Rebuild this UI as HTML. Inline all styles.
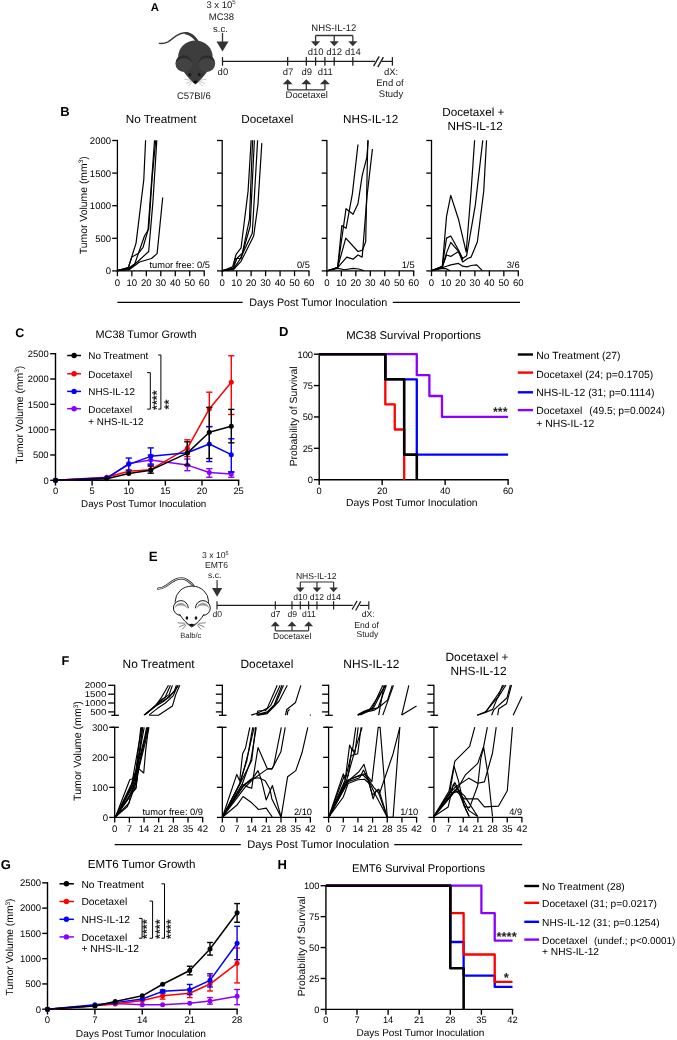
<!DOCTYPE html>
<html><head><meta charset="utf-8"><style>
html,body{margin:0;padding:0;background:#fff;overflow:hidden;width:677px;height:1040px;}
svg{display:block;font-family:"Liberation Sans", sans-serif;text-rendering:geometricPrecision;will-change:transform;}
</style></head><body>
<svg width="677" height="1040" viewBox="0 0 677 1040" shape-rendering="geometricPrecision">
<rect width="677" height="1040" fill="#fff"/>
<text x="150.80" y="11.00" font-size="11.3" text-anchor="start" font-weight="bold" fill="#000" >A</text>
<text x="221.0" y="7.6" font-size="9.5" text-anchor="middle" fill="#1a1a1a">3 x 10<tspan font-size="6" dy="-3.5">5</tspan></text>
<text x="221.40" y="20.00" font-size="9.5" text-anchor="middle" font-weight="normal" fill="#1a1a1a" >MC38</text>
<text x="220.40" y="31.60" font-size="9.5" text-anchor="middle" font-weight="normal" fill="#1a1a1a" >s.c.</text>
<line x1="222.50" y1="33.00" x2="222.50" y2="43.00" stroke="#333" stroke-width="1.3" />
<path d="M216.5,41.5 L228.5,41.5 L222.5,51.4 Z" fill="#333" stroke="none" stroke-width="1" />
<line x1="222.50" y1="61.40" x2="375.00" y2="61.40" stroke="#1c1c1c" stroke-width="1.25" />
<line x1="381.50" y1="61.40" x2="392.40" y2="61.40" stroke="#1c1c1c" stroke-width="1.25" />
<line x1="373.60" y1="66.20" x2="379.20" y2="56.30" stroke="#1c1c1c" stroke-width="1.35" />
<line x1="377.80" y1="67.10" x2="383.40" y2="57.20" stroke="#1c1c1c" stroke-width="1.35" />
<line x1="222.50" y1="57.10" x2="222.50" y2="65.70" stroke="#1c1c1c" stroke-width="1.25" />
<line x1="287.67" y1="57.10" x2="287.67" y2="65.70" stroke="#1c1c1c" stroke-width="1.25" />
<line x1="306.29" y1="57.10" x2="306.29" y2="65.70" stroke="#1c1c1c" stroke-width="1.25" />
<line x1="315.60" y1="57.10" x2="315.60" y2="65.70" stroke="#1c1c1c" stroke-width="1.25" />
<line x1="324.91" y1="57.10" x2="324.91" y2="65.70" stroke="#1c1c1c" stroke-width="1.25" />
<line x1="334.22" y1="57.10" x2="334.22" y2="65.70" stroke="#1c1c1c" stroke-width="1.25" />
<line x1="352.84" y1="57.10" x2="352.84" y2="65.70" stroke="#1c1c1c" stroke-width="1.25" />
<line x1="392.40" y1="57.10" x2="392.40" y2="65.70" stroke="#1c1c1c" stroke-width="1.25" />
<text x="222.90" y="74.50" font-size="9.5" text-anchor="middle" font-weight="normal" fill="#1a1a1a" >d0</text>
<text x="288.07" y="74.50" font-size="9.5" text-anchor="middle" font-weight="normal" fill="#1a1a1a" >d7</text>
<text x="306.69" y="74.50" font-size="9.5" text-anchor="middle" font-weight="normal" fill="#1a1a1a" >d9</text>
<text x="325.31" y="74.50" font-size="9.5" text-anchor="middle" font-weight="normal" fill="#1a1a1a" >d11</text>
<text x="391.10" y="74.50" font-size="9.5" text-anchor="middle" font-weight="normal" fill="#1a1a1a" >dX:</text>
<text x="390.00" y="85.70" font-size="9.5" text-anchor="middle" font-weight="normal" fill="#1a1a1a" >End of</text>
<text x="391.00" y="96.60" font-size="9.5" text-anchor="middle" font-weight="normal" fill="#1a1a1a" >Study</text>
<text x="315.60" y="55.00" font-size="9.5" text-anchor="middle" font-weight="normal" fill="#1a1a1a" >d10</text>
<text x="334.22" y="55.00" font-size="9.5" text-anchor="middle" font-weight="normal" fill="#1a1a1a" >d12</text>
<text x="352.84" y="55.00" font-size="9.5" text-anchor="middle" font-weight="normal" fill="#1a1a1a" >d14</text>
<text x="333.80" y="31.40" font-size="9.5" text-anchor="middle" font-weight="normal" fill="#1a1a1a" >NHS-IL-12</text>
<line x1="315.60" y1="35.50" x2="352.84" y2="35.50" stroke="#333" stroke-width="1.3" />
<line x1="315.60" y1="35.50" x2="315.60" y2="42.00" stroke="#333" stroke-width="1.3" />
<path d="M311.00,41.3 L320.20,41.3 L315.60,46.2 Z" fill="#333" stroke="none" stroke-width="1" />
<line x1="334.22" y1="35.50" x2="334.22" y2="42.00" stroke="#333" stroke-width="1.3" />
<path d="M329.62,41.3 L338.82,41.3 L334.22,46.2 Z" fill="#333" stroke="none" stroke-width="1" />
<line x1="352.84" y1="35.50" x2="352.84" y2="42.00" stroke="#333" stroke-width="1.3" />
<path d="M348.24,41.3 L357.44,41.3 L352.84,46.2 Z" fill="#333" stroke="none" stroke-width="1" />
<line x1="287.67" y1="89.90" x2="324.91" y2="89.90" stroke="#333" stroke-width="1.3" />
<line x1="287.67" y1="89.90" x2="287.67" y2="83.00" stroke="#333" stroke-width="1.3" />
<path d="M282.67,84.2 L292.67,84.2 L287.67,79.3 Z" fill="#333" stroke="none" stroke-width="1" />
<line x1="306.29" y1="89.90" x2="306.29" y2="83.00" stroke="#333" stroke-width="1.3" />
<path d="M301.29,84.2 L311.29,84.2 L306.29,79.3 Z" fill="#333" stroke="none" stroke-width="1" />
<line x1="324.91" y1="89.90" x2="324.91" y2="83.00" stroke="#333" stroke-width="1.3" />
<path d="M319.91,84.2 L329.91,84.2 L324.91,79.3 Z" fill="#333" stroke="none" stroke-width="1" />
<text x="306.70" y="98.30" font-size="9.5" text-anchor="middle" font-weight="normal" fill="#1a1a1a" >Docetaxel</text>
<path d="M159.3,43.4 C162.5,43.8 165,43.4 168,41.8 C171,40 173.5,37.5 176.5,35.6 C179.5,33.8 182,32.8 185,32.8 C189,32.9 192.5,34.8 195,37.5 C196,38.6 196.8,39.6 197.5,40.8" fill="none" stroke="#3a3a3a" stroke-width="1.4" stroke-linecap="round"/>
<path d="M186,33.3 C190,34 193.5,36.5 196.5,40.5" fill="none" stroke="#3a3a3a" stroke-width="2.4" stroke-linecap="round"/>
<ellipse cx="195.4" cy="56.5" rx="17.2" ry="16.0" fill="#3d3d3d"/>
<path d="M182.5,62 L208.3,62 L207.6,71.0 C204.6,75.8 200,80.6 195.4,84.6 C190.8,80.6 186.2,75.8 183.2,71.0 Z" fill="#3b3b3b" stroke="none" stroke-width="1" />
<circle cx="183.90" cy="63.60" r="8.5" fill="#434343" />
<circle cx="206.70" cy="63.60" r="8.5" fill="#434343" />
<path d="M176.0,62.5 C176.5,57.5 180,55.2 184,55.2 C188.5,55.2 191.8,58.5 192.2,63 C190.5,60 187.5,58.3 184,58.3 C180.5,58.3 177.5,60 176.0,62.5 Z" fill="#2c2c2c" stroke="none" stroke-width="1" />
<path d="M198.6,63 C199,58.5 202.3,55.2 206.7,55.2 C210.8,55.2 214.3,57.5 214.7,62.5 C213.2,60 210.2,58.3 206.7,58.3 C203.2,58.3 200.3,60 198.6,63 Z" fill="#2c2c2c" stroke="none" stroke-width="1" />
<circle cx="190.00" cy="74.60" r="1.45" fill="#050505" />
<circle cx="190.45" cy="74.15" r="0.45" fill="#cfcfcf" />
<circle cx="199.60" cy="74.60" r="1.45" fill="#050505" />
<circle cx="200.05" cy="74.15" r="0.45" fill="#cfcfcf" />
<ellipse cx="195.4" cy="81.9" rx="2.0" ry="1.35" fill="#080808"/>
<line x1="191.20" y1="80.20" x2="184.50" y2="79.30" stroke="#9a9a9a" stroke-width="0.55" />
<line x1="191.60" y1="81.20" x2="185.80" y2="83.60" stroke="#9a9a9a" stroke-width="0.55" />
<line x1="192.20" y1="82.10" x2="188.20" y2="86.30" stroke="#9a9a9a" stroke-width="0.55" />
<line x1="199.60" y1="80.20" x2="206.30" y2="79.30" stroke="#9a9a9a" stroke-width="0.55" />
<line x1="199.20" y1="81.20" x2="205.00" y2="83.60" stroke="#9a9a9a" stroke-width="0.55" />
<line x1="198.60" y1="82.10" x2="202.60" y2="86.30" stroke="#9a9a9a" stroke-width="0.55" />
<text x="193.80" y="98.50" font-size="9.5" text-anchor="middle" font-weight="normal" fill="#1a1a1a" >C57Bl/6</text>
<text x="60.30" y="115.50" font-size="13" text-anchor="start" font-weight="bold" fill="#000" >B</text>
<text x="161.10" y="123.30" font-size="11.7" text-anchor="middle" font-weight="normal" fill="#000" >No Treatment</text>
<line x1="117.40" y1="139.90" x2="117.40" y2="271.50" stroke="#000" stroke-width="1.3" />
<line x1="116.80" y1="270.90" x2="204.80" y2="270.90" stroke="#000" stroke-width="1.3" />
<line x1="112.20" y1="270.90" x2="117.40" y2="270.90" stroke="#000" stroke-width="1.3" />
<text x="111.00" y="274.30" font-size="9.5" text-anchor="end" font-weight="normal" fill="#000" >0</text>
<line x1="112.20" y1="238.30" x2="117.40" y2="238.30" stroke="#000" stroke-width="1.3" />
<text x="111.00" y="241.70" font-size="9.5" text-anchor="end" font-weight="normal" fill="#000" >500</text>
<line x1="112.20" y1="205.70" x2="117.40" y2="205.70" stroke="#000" stroke-width="1.3" />
<text x="111.00" y="209.10" font-size="9.5" text-anchor="end" font-weight="normal" fill="#000" >1000</text>
<line x1="112.20" y1="173.10" x2="117.40" y2="173.10" stroke="#000" stroke-width="1.3" />
<text x="111.00" y="176.50" font-size="9.5" text-anchor="end" font-weight="normal" fill="#000" >1500</text>
<line x1="112.20" y1="140.50" x2="117.40" y2="140.50" stroke="#000" stroke-width="1.3" />
<text x="111.00" y="143.90" font-size="9.5" text-anchor="end" font-weight="normal" fill="#000" >2000</text>
<line x1="117.40" y1="270.90" x2="117.40" y2="276.20" stroke="#000" stroke-width="1.3" />
<text x="117.40" y="286.40" font-size="9.6" text-anchor="middle" font-weight="normal" fill="#000" >0</text>
<line x1="131.87" y1="270.90" x2="131.87" y2="276.20" stroke="#000" stroke-width="1.3" />
<text x="131.87" y="286.40" font-size="9.6" text-anchor="middle" font-weight="normal" fill="#000" >10</text>
<line x1="146.33" y1="270.90" x2="146.33" y2="276.20" stroke="#000" stroke-width="1.3" />
<text x="146.33" y="286.40" font-size="9.6" text-anchor="middle" font-weight="normal" fill="#000" >20</text>
<line x1="160.80" y1="270.90" x2="160.80" y2="276.20" stroke="#000" stroke-width="1.3" />
<text x="160.80" y="286.40" font-size="9.6" text-anchor="middle" font-weight="normal" fill="#000" >30</text>
<line x1="175.27" y1="270.90" x2="175.27" y2="276.20" stroke="#000" stroke-width="1.3" />
<text x="175.27" y="286.40" font-size="9.6" text-anchor="middle" font-weight="normal" fill="#000" >40</text>
<line x1="189.73" y1="270.90" x2="189.73" y2="276.20" stroke="#000" stroke-width="1.3" />
<text x="189.73" y="286.40" font-size="9.6" text-anchor="middle" font-weight="normal" fill="#000" >50</text>
<line x1="204.20" y1="270.90" x2="204.20" y2="276.20" stroke="#000" stroke-width="1.3" />
<text x="204.20" y="286.40" font-size="9.6" text-anchor="middle" font-weight="normal" fill="#000" >60</text>
<text x="209.90" y="268.40" font-size="9.3" text-anchor="end" font-weight="normal" fill="#000" >tumor free: 0/5</text>
<text x="267.30" y="123.30" font-size="11.7" text-anchor="middle" font-weight="normal" fill="#000" >Docetaxel</text>
<line x1="222.20" y1="139.90" x2="222.20" y2="271.50" stroke="#000" stroke-width="1.3" />
<line x1="221.60" y1="270.90" x2="309.60" y2="270.90" stroke="#000" stroke-width="1.3" />
<line x1="217.00" y1="270.90" x2="222.20" y2="270.90" stroke="#000" stroke-width="1.3" />
<line x1="217.00" y1="238.30" x2="222.20" y2="238.30" stroke="#000" stroke-width="1.3" />
<line x1="217.00" y1="205.70" x2="222.20" y2="205.70" stroke="#000" stroke-width="1.3" />
<line x1="217.00" y1="173.10" x2="222.20" y2="173.10" stroke="#000" stroke-width="1.3" />
<line x1="217.00" y1="140.50" x2="222.20" y2="140.50" stroke="#000" stroke-width="1.3" />
<line x1="222.20" y1="270.90" x2="222.20" y2="276.20" stroke="#000" stroke-width="1.3" />
<text x="222.20" y="286.40" font-size="9.6" text-anchor="middle" font-weight="normal" fill="#000" >0</text>
<line x1="236.67" y1="270.90" x2="236.67" y2="276.20" stroke="#000" stroke-width="1.3" />
<text x="236.67" y="286.40" font-size="9.6" text-anchor="middle" font-weight="normal" fill="#000" >10</text>
<line x1="251.13" y1="270.90" x2="251.13" y2="276.20" stroke="#000" stroke-width="1.3" />
<text x="251.13" y="286.40" font-size="9.6" text-anchor="middle" font-weight="normal" fill="#000" >20</text>
<line x1="265.60" y1="270.90" x2="265.60" y2="276.20" stroke="#000" stroke-width="1.3" />
<text x="265.60" y="286.40" font-size="9.6" text-anchor="middle" font-weight="normal" fill="#000" >30</text>
<line x1="280.07" y1="270.90" x2="280.07" y2="276.20" stroke="#000" stroke-width="1.3" />
<text x="280.07" y="286.40" font-size="9.6" text-anchor="middle" font-weight="normal" fill="#000" >40</text>
<line x1="294.53" y1="270.90" x2="294.53" y2="276.20" stroke="#000" stroke-width="1.3" />
<text x="294.53" y="286.40" font-size="9.6" text-anchor="middle" font-weight="normal" fill="#000" >50</text>
<line x1="309.00" y1="270.90" x2="309.00" y2="276.20" stroke="#000" stroke-width="1.3" />
<text x="309.00" y="286.40" font-size="9.6" text-anchor="middle" font-weight="normal" fill="#000" >60</text>
<text x="309.90" y="268.40" font-size="9.3" text-anchor="end" font-weight="normal" fill="#000" >0/5</text>
<text x="370.70" y="123.30" font-size="11.7" text-anchor="middle" font-weight="normal" fill="#000" >NHS-IL-12</text>
<line x1="326.90" y1="139.90" x2="326.90" y2="271.50" stroke="#000" stroke-width="1.3" />
<line x1="326.30" y1="270.90" x2="414.30" y2="270.90" stroke="#000" stroke-width="1.3" />
<line x1="321.70" y1="270.90" x2="326.90" y2="270.90" stroke="#000" stroke-width="1.3" />
<line x1="321.70" y1="238.30" x2="326.90" y2="238.30" stroke="#000" stroke-width="1.3" />
<line x1="321.70" y1="205.70" x2="326.90" y2="205.70" stroke="#000" stroke-width="1.3" />
<line x1="321.70" y1="173.10" x2="326.90" y2="173.10" stroke="#000" stroke-width="1.3" />
<line x1="321.70" y1="140.50" x2="326.90" y2="140.50" stroke="#000" stroke-width="1.3" />
<line x1="326.90" y1="270.90" x2="326.90" y2="276.20" stroke="#000" stroke-width="1.3" />
<text x="326.90" y="286.40" font-size="9.6" text-anchor="middle" font-weight="normal" fill="#000" >0</text>
<line x1="341.37" y1="270.90" x2="341.37" y2="276.20" stroke="#000" stroke-width="1.3" />
<text x="341.37" y="286.40" font-size="9.6" text-anchor="middle" font-weight="normal" fill="#000" >10</text>
<line x1="355.83" y1="270.90" x2="355.83" y2="276.20" stroke="#000" stroke-width="1.3" />
<text x="355.83" y="286.40" font-size="9.6" text-anchor="middle" font-weight="normal" fill="#000" >20</text>
<line x1="370.30" y1="270.90" x2="370.30" y2="276.20" stroke="#000" stroke-width="1.3" />
<text x="370.30" y="286.40" font-size="9.6" text-anchor="middle" font-weight="normal" fill="#000" >30</text>
<line x1="384.77" y1="270.90" x2="384.77" y2="276.20" stroke="#000" stroke-width="1.3" />
<text x="384.77" y="286.40" font-size="9.6" text-anchor="middle" font-weight="normal" fill="#000" >40</text>
<line x1="399.23" y1="270.90" x2="399.23" y2="276.20" stroke="#000" stroke-width="1.3" />
<text x="399.23" y="286.40" font-size="9.6" text-anchor="middle" font-weight="normal" fill="#000" >50</text>
<line x1="413.70" y1="270.90" x2="413.70" y2="276.20" stroke="#000" stroke-width="1.3" />
<text x="413.70" y="286.40" font-size="9.6" text-anchor="middle" font-weight="normal" fill="#000" >60</text>
<text x="414.60" y="268.40" font-size="9.3" text-anchor="end" font-weight="normal" fill="#000" >1/5</text>
<text x="473.30" y="116.10" font-size="11.7" text-anchor="middle" font-weight="normal" fill="#000" >Docetaxel +</text>
<text x="475.10" y="130.30" font-size="11.7" text-anchor="middle" font-weight="normal" fill="#000" >NHS-IL-12</text>
<line x1="431.50" y1="139.90" x2="431.50" y2="271.50" stroke="#000" stroke-width="1.3" />
<line x1="430.90" y1="270.90" x2="518.90" y2="270.90" stroke="#000" stroke-width="1.3" />
<line x1="426.30" y1="270.90" x2="431.50" y2="270.90" stroke="#000" stroke-width="1.3" />
<line x1="426.30" y1="238.30" x2="431.50" y2="238.30" stroke="#000" stroke-width="1.3" />
<line x1="426.30" y1="205.70" x2="431.50" y2="205.70" stroke="#000" stroke-width="1.3" />
<line x1="426.30" y1="173.10" x2="431.50" y2="173.10" stroke="#000" stroke-width="1.3" />
<line x1="426.30" y1="140.50" x2="431.50" y2="140.50" stroke="#000" stroke-width="1.3" />
<line x1="431.50" y1="270.90" x2="431.50" y2="276.20" stroke="#000" stroke-width="1.3" />
<text x="431.50" y="286.40" font-size="9.6" text-anchor="middle" font-weight="normal" fill="#000" >0</text>
<line x1="445.97" y1="270.90" x2="445.97" y2="276.20" stroke="#000" stroke-width="1.3" />
<text x="445.97" y="286.40" font-size="9.6" text-anchor="middle" font-weight="normal" fill="#000" >10</text>
<line x1="460.43" y1="270.90" x2="460.43" y2="276.20" stroke="#000" stroke-width="1.3" />
<text x="460.43" y="286.40" font-size="9.6" text-anchor="middle" font-weight="normal" fill="#000" >20</text>
<line x1="474.90" y1="270.90" x2="474.90" y2="276.20" stroke="#000" stroke-width="1.3" />
<text x="474.90" y="286.40" font-size="9.6" text-anchor="middle" font-weight="normal" fill="#000" >30</text>
<line x1="489.37" y1="270.90" x2="489.37" y2="276.20" stroke="#000" stroke-width="1.3" />
<text x="489.37" y="286.40" font-size="9.6" text-anchor="middle" font-weight="normal" fill="#000" >40</text>
<line x1="503.83" y1="270.90" x2="503.83" y2="276.20" stroke="#000" stroke-width="1.3" />
<text x="503.83" y="286.40" font-size="9.6" text-anchor="middle" font-weight="normal" fill="#000" >50</text>
<line x1="518.30" y1="270.90" x2="518.30" y2="276.20" stroke="#000" stroke-width="1.3" />
<text x="518.30" y="286.40" font-size="9.6" text-anchor="middle" font-weight="normal" fill="#000" >60</text>
<text x="519.60" y="268.40" font-size="9.3" text-anchor="end" font-weight="normal" fill="#000" >3/6</text>
<text transform="translate(86.9,205.2) rotate(-90)" font-size="10.4" text-anchor="middle">Tumor Volume (mm<tspan font-size="6.5" dy="-3.5">3</tspan><tspan dy="3.5">)</tspan></text>
<line x1="117.40" y1="302.30" x2="242.60" y2="302.30" stroke="#000" stroke-width="1.2" />
<line x1="392.80" y1="302.30" x2="520.00" y2="302.30" stroke="#000" stroke-width="1.2" />
<text x="318.30" y="306.00" font-size="10.8" text-anchor="middle" font-weight="normal" fill="#000" >Days Post Tumor Inoculation</text>
<polyline points="117.53,270.70 128.33,267.61 136.05,243.06 143.77,179.91 145.59,140.33" fill="none" stroke="#000" stroke-width="1.2" stroke-linejoin="round" />
<polyline points="117.53,270.70 128.33,267.61 131.84,257.09 138.15,253.58 143.07,247.26 147.98,230.43 154.57,140.33" fill="none" stroke="#000" stroke-width="1.2" stroke-linejoin="round" />
<polyline points="117.53,270.70 128.33,268.31 134.65,264.10 144.47,236.04 148.68,229.02 152.19,177.10 155.70,140.33" fill="none" stroke="#000" stroke-width="1.2" stroke-linejoin="round" />
<polyline points="117.53,270.70 129.03,269.02 138.15,261.30 148.68,251.47 152.89,202.36 156.82,140.33" fill="none" stroke="#000" stroke-width="1.2" stroke-linejoin="round" />
<polyline points="117.53,270.70 129.03,269.72 139.56,262.00 151.49,258.49 157.10,253.58 162.71,197.45" fill="none" stroke="#000" stroke-width="1.2" stroke-linejoin="round" />
<polyline points="222.53,270.70 232.63,266.91 236.14,254.28 241.05,247.97 248.07,191.13 251.15,140.33" fill="none" stroke="#000" stroke-width="1.2" stroke-linejoin="round" />
<polyline points="222.53,270.70 233.33,268.31 236.84,258.49 242.45,252.88 249.47,219.20 252.56,140.33" fill="none" stroke="#000" stroke-width="1.2" stroke-linejoin="round" />
<polyline points="222.53,270.70 233.33,268.31 235.44,258.49 241.05,258.49 250.17,226.22 254.38,140.33" fill="none" stroke="#000" stroke-width="1.2" stroke-linejoin="round" />
<polyline points="222.53,270.70 233.33,269.02 239.65,259.89 252.28,233.23 257.61,140.33" fill="none" stroke="#000" stroke-width="1.2" stroke-linejoin="round" />
<polyline points="222.53,270.70 233.33,269.72 241.05,261.30 253.68,236.04 257.89,205.17 261.82,143.14" fill="none" stroke="#000" stroke-width="1.2" stroke-linejoin="round" />
<polyline points="327.53,270.70 337.63,267.61 341.84,225.51 346.05,228.32 352.36,193.94 357.98,144.54" fill="none" stroke="#000" stroke-width="1.2" stroke-linejoin="round" />
<polyline points="327.53,270.70 337.63,267.61 346.05,208.67 353.07,214.29 357.98,203.76 362.19,175.70 366.82,157.45 368.22,140.33" fill="none" stroke="#000" stroke-width="1.2" stroke-linejoin="round" />
<polyline points="327.53,270.70 337.63,267.61 345.77,238.14 357.98,251.47 362.61,250.07 365.70,241.65 367.80,140.33" fill="none" stroke="#000" stroke-width="1.2" stroke-linejoin="round" />
<polyline points="327.53,270.70 337.63,267.61 346.75,257.09 353.07,259.19 357.98,254.98 362.19,257.09 367.10,195.34 372.43,149.03" fill="none" stroke="#000" stroke-width="1.2" stroke-linejoin="round" />
<polyline points="327.53,270.70 337.63,268.31 344.65,269.72 353.07,268.31 358.68,269.02 364.29,270.70" fill="none" stroke="#000" stroke-width="1.2" stroke-linejoin="round" />
<polyline points="431.53,270.70 442.33,266.21 446.54,216.39 450.75,195.34 458.47,219.20 466.19,252.18 471.10,191.13 474.61,140.33" fill="none" stroke="#000" stroke-width="1.2" stroke-linejoin="round" />
<polyline points="431.53,270.70 442.33,266.21 446.54,238.14 450.75,236.04 458.47,250.07 462.68,258.49 466.61,255.68 475.31,205.17 482.75,140.33" fill="none" stroke="#000" stroke-width="1.2" stroke-linejoin="round" />
<polyline points="431.53,270.70 442.33,266.91 446.54,252.88 450.75,242.35 458.47,251.47 462.68,262.00 467.59,258.49 471.10,257.09 477.41,241.65 483.73,191.13 486.54,140.33" fill="none" stroke="#000" stroke-width="1.2" stroke-linejoin="round" />
<polyline points="431.53,270.70 442.33,266.91 446.54,254.98 450.75,256.39 458.47,251.47 462.68,259.89" fill="none" stroke="#000" stroke-width="1.2" stroke-linejoin="round" />
<polyline points="431.53,270.70 442.33,267.61 446.54,266.21 450.75,264.81 458.47,263.40 462.68,266.21 466.89,266.91 471.10,265.51 476.71,264.81 482.33,270.70" fill="none" stroke="#000" stroke-width="1.2" stroke-linejoin="round" />
<polyline points="431.53,270.70 442.33,268.31 445.84,268.60 450.05,270.70" fill="none" stroke="#000" stroke-width="1.2" stroke-linejoin="round" />
<text x="15.20" y="336.50" font-size="12.5" text-anchor="start" font-weight="bold" fill="#000" >C</text>
<text x="146.00" y="337.70" font-size="10.9" text-anchor="middle" font-weight="normal" fill="#000" >MC38 Tumor Growth</text>
<line x1="55.50" y1="353.00" x2="55.50" y2="481.00" stroke="#000" stroke-width="1.4" />
<line x1="54.80" y1="480.30" x2="239.30" y2="480.30" stroke="#000" stroke-width="1.4" />
<line x1="50.20" y1="480.30" x2="55.50" y2="480.30" stroke="#000" stroke-width="1.4" />
<text x="48.60" y="483.60" font-size="9.4" text-anchor="end" font-weight="normal" fill="#000" >0</text>
<line x1="50.20" y1="454.98" x2="55.50" y2="454.98" stroke="#000" stroke-width="1.4" />
<text x="48.60" y="458.28" font-size="9.4" text-anchor="end" font-weight="normal" fill="#000" >500</text>
<line x1="50.20" y1="429.66" x2="55.50" y2="429.66" stroke="#000" stroke-width="1.4" />
<text x="48.60" y="432.96" font-size="9.4" text-anchor="end" font-weight="normal" fill="#000" >1000</text>
<line x1="50.20" y1="404.34" x2="55.50" y2="404.34" stroke="#000" stroke-width="1.4" />
<text x="48.60" y="407.64" font-size="9.4" text-anchor="end" font-weight="normal" fill="#000" >1500</text>
<line x1="50.20" y1="379.02" x2="55.50" y2="379.02" stroke="#000" stroke-width="1.4" />
<text x="48.60" y="382.32" font-size="9.4" text-anchor="end" font-weight="normal" fill="#000" >2000</text>
<line x1="50.20" y1="353.70" x2="55.50" y2="353.70" stroke="#000" stroke-width="1.4" />
<text x="48.60" y="357.00" font-size="9.4" text-anchor="end" font-weight="normal" fill="#000" >2500</text>
<line x1="55.50" y1="480.30" x2="55.50" y2="485.60" stroke="#000" stroke-width="1.4" />
<text x="55.50" y="493.70" font-size="9.4" text-anchor="middle" font-weight="normal" fill="#000" >0</text>
<line x1="92.12" y1="480.30" x2="92.12" y2="485.60" stroke="#000" stroke-width="1.4" />
<text x="92.12" y="493.70" font-size="9.4" text-anchor="middle" font-weight="normal" fill="#000" >5</text>
<line x1="128.74" y1="480.30" x2="128.74" y2="485.60" stroke="#000" stroke-width="1.4" />
<text x="128.74" y="493.70" font-size="9.4" text-anchor="middle" font-weight="normal" fill="#000" >10</text>
<line x1="165.36" y1="480.30" x2="165.36" y2="485.60" stroke="#000" stroke-width="1.4" />
<text x="165.36" y="493.70" font-size="9.4" text-anchor="middle" font-weight="normal" fill="#000" >15</text>
<line x1="201.98" y1="480.30" x2="201.98" y2="485.60" stroke="#000" stroke-width="1.4" />
<text x="201.98" y="493.70" font-size="9.4" text-anchor="middle" font-weight="normal" fill="#000" >20</text>
<line x1="238.60" y1="480.30" x2="238.60" y2="485.60" stroke="#000" stroke-width="1.4" />
<text x="238.60" y="493.70" font-size="9.4" text-anchor="middle" font-weight="normal" fill="#000" >25</text>
<polyline points="55.50,480.30 106.77,478.27 128.74,463.59 150.71,459.89 187.33,465.11 209.30,472.50 231.28,474.02" fill="none" stroke="#8b00ff" stroke-width="1.5" stroke-linejoin="round" />
<line x1="150.71" y1="465.11" x2="150.71" y2="454.98" stroke="#8b00ff" stroke-width="1.4" />
<line x1="147.61" y1="454.98" x2="153.81" y2="454.98" stroke="#8b00ff" stroke-width="1.4" />
<line x1="147.61" y1="465.11" x2="153.81" y2="465.11" stroke="#8b00ff" stroke-width="1.4" />
<line x1="187.33" y1="470.68" x2="187.33" y2="459.03" stroke="#8b00ff" stroke-width="1.4" />
<line x1="184.23" y1="459.03" x2="190.43" y2="459.03" stroke="#8b00ff" stroke-width="1.4" />
<line x1="184.23" y1="470.68" x2="190.43" y2="470.68" stroke="#8b00ff" stroke-width="1.4" />
<line x1="209.30" y1="477.26" x2="209.30" y2="468.65" stroke="#8b00ff" stroke-width="1.4" />
<line x1="206.20" y1="468.65" x2="212.40" y2="468.65" stroke="#8b00ff" stroke-width="1.4" />
<line x1="206.20" y1="477.26" x2="212.40" y2="477.26" stroke="#8b00ff" stroke-width="1.4" />
<line x1="231.28" y1="477.26" x2="231.28" y2="471.69" stroke="#8b00ff" stroke-width="1.4" />
<line x1="228.18" y1="471.69" x2="234.38" y2="471.69" stroke="#8b00ff" stroke-width="1.4" />
<line x1="228.18" y1="477.26" x2="234.38" y2="477.26" stroke="#8b00ff" stroke-width="1.4" />
<circle cx="55.50" cy="480.30" r="2.5" fill="#8b00ff" />
<circle cx="106.77" cy="478.27" r="2.5" fill="#8b00ff" />
<circle cx="128.74" cy="463.59" r="2.5" fill="#8b00ff" />
<circle cx="150.71" cy="459.89" r="2.5" fill="#8b00ff" />
<circle cx="187.33" cy="465.11" r="2.5" fill="#8b00ff" />
<circle cx="209.30" cy="472.50" r="2.5" fill="#8b00ff" />
<circle cx="231.28" cy="474.02" r="2.5" fill="#8b00ff" />
<polyline points="55.50,480.30 106.77,477.26 128.74,471.18 150.71,469.67 187.33,448.30 209.30,408.90 231.28,382.31" fill="none" stroke="#ff0000" stroke-width="1.5" stroke-linejoin="round" />
<line x1="187.33" y1="456.50" x2="187.33" y2="439.79" stroke="#ff0000" stroke-width="1.4" />
<line x1="184.23" y1="439.79" x2="190.43" y2="439.79" stroke="#ff0000" stroke-width="1.4" />
<line x1="184.23" y1="456.50" x2="190.43" y2="456.50" stroke="#ff0000" stroke-width="1.4" />
<line x1="209.30" y1="426.62" x2="209.30" y2="392.19" stroke="#ff0000" stroke-width="1.4" />
<line x1="206.20" y1="392.19" x2="212.40" y2="392.19" stroke="#ff0000" stroke-width="1.4" />
<line x1="206.20" y1="426.62" x2="212.40" y2="426.62" stroke="#ff0000" stroke-width="1.4" />
<line x1="231.28" y1="414.47" x2="231.28" y2="355.73" stroke="#ff0000" stroke-width="1.4" />
<line x1="228.18" y1="355.73" x2="234.38" y2="355.73" stroke="#ff0000" stroke-width="1.4" />
<line x1="228.18" y1="414.47" x2="234.38" y2="414.47" stroke="#ff0000" stroke-width="1.4" />
<circle cx="55.50" cy="480.30" r="2.5" fill="#ff0000" />
<circle cx="106.77" cy="477.26" r="2.5" fill="#ff0000" />
<circle cx="128.74" cy="471.18" r="2.5" fill="#ff0000" />
<circle cx="150.71" cy="469.67" r="2.5" fill="#ff0000" />
<circle cx="187.33" cy="448.30" r="2.5" fill="#ff0000" />
<circle cx="209.30" cy="408.90" r="2.5" fill="#ff0000" />
<circle cx="231.28" cy="382.31" r="2.5" fill="#ff0000" />
<polyline points="55.50,480.30 106.77,477.77 128.74,464.35 150.71,456.35 187.33,452.70 209.30,444.04 231.28,454.63" fill="none" stroke="#0000ff" stroke-width="1.5" stroke-linejoin="round" />
<line x1="128.74" y1="470.17" x2="128.74" y2="458.02" stroke="#0000ff" stroke-width="1.4" />
<line x1="125.64" y1="458.02" x2="131.84" y2="458.02" stroke="#0000ff" stroke-width="1.4" />
<line x1="125.64" y1="470.17" x2="131.84" y2="470.17" stroke="#0000ff" stroke-width="1.4" />
<line x1="150.71" y1="464.10" x2="150.71" y2="447.89" stroke="#0000ff" stroke-width="1.4" />
<line x1="147.61" y1="447.89" x2="153.81" y2="447.89" stroke="#0000ff" stroke-width="1.4" />
<line x1="147.61" y1="464.10" x2="153.81" y2="464.10" stroke="#0000ff" stroke-width="1.4" />
<line x1="209.30" y1="461.56" x2="209.30" y2="426.62" stroke="#0000ff" stroke-width="1.4" />
<line x1="206.20" y1="426.62" x2="212.40" y2="426.62" stroke="#0000ff" stroke-width="1.4" />
<line x1="206.20" y1="461.56" x2="212.40" y2="461.56" stroke="#0000ff" stroke-width="1.4" />
<line x1="231.28" y1="472.20" x2="231.28" y2="438.78" stroke="#0000ff" stroke-width="1.4" />
<line x1="228.18" y1="438.78" x2="234.38" y2="438.78" stroke="#0000ff" stroke-width="1.4" />
<line x1="228.18" y1="472.20" x2="234.38" y2="472.20" stroke="#0000ff" stroke-width="1.4" />
<circle cx="55.50" cy="480.30" r="2.5" fill="#0000ff" />
<circle cx="106.77" cy="477.77" r="2.5" fill="#0000ff" />
<circle cx="128.74" cy="464.35" r="2.5" fill="#0000ff" />
<circle cx="150.71" cy="456.35" r="2.5" fill="#0000ff" />
<circle cx="187.33" cy="452.70" r="2.5" fill="#0000ff" />
<circle cx="209.30" cy="444.04" r="2.5" fill="#0000ff" />
<circle cx="231.28" cy="454.63" r="2.5" fill="#0000ff" />
<polyline points="55.50,480.30 106.77,478.78 128.74,473.41 150.71,470.17 187.33,453.11 209.30,432.29 231.28,426.32" fill="none" stroke="#000000" stroke-width="1.5" stroke-linejoin="round" />
<line x1="150.71" y1="473.21" x2="150.71" y2="466.12" stroke="#000000" stroke-width="1.4" />
<line x1="147.61" y1="466.12" x2="153.81" y2="466.12" stroke="#000000" stroke-width="1.4" />
<line x1="147.61" y1="473.21" x2="153.81" y2="473.21" stroke="#000000" stroke-width="1.4" />
<line x1="187.33" y1="465.11" x2="187.33" y2="441.81" stroke="#000000" stroke-width="1.4" />
<line x1="184.23" y1="441.81" x2="190.43" y2="441.81" stroke="#000000" stroke-width="1.4" />
<line x1="184.23" y1="465.11" x2="190.43" y2="465.11" stroke="#000000" stroke-width="1.4" />
<line x1="209.30" y1="458.52" x2="209.30" y2="407.38" stroke="#000000" stroke-width="1.4" />
<line x1="206.20" y1="407.38" x2="212.40" y2="407.38" stroke="#000000" stroke-width="1.4" />
<line x1="206.20" y1="458.52" x2="212.40" y2="458.52" stroke="#000000" stroke-width="1.4" />
<line x1="231.28" y1="442.83" x2="231.28" y2="409.40" stroke="#000000" stroke-width="1.4" />
<line x1="228.18" y1="409.40" x2="234.38" y2="409.40" stroke="#000000" stroke-width="1.4" />
<line x1="228.18" y1="442.83" x2="234.38" y2="442.83" stroke="#000000" stroke-width="1.4" />
<circle cx="55.50" cy="480.30" r="2.5" fill="#000000" />
<circle cx="106.77" cy="478.78" r="2.5" fill="#000000" />
<circle cx="128.74" cy="473.41" r="2.5" fill="#000000" />
<circle cx="150.71" cy="470.17" r="2.5" fill="#000000" />
<circle cx="187.33" cy="453.11" r="2.5" fill="#000000" />
<circle cx="209.30" cy="432.29" r="2.5" fill="#000000" />
<circle cx="231.28" cy="426.32" r="2.5" fill="#000000" />
<text transform="translate(22.6,414.7) rotate(-90)" font-size="10.4" text-anchor="middle">Tumor Volume (mm<tspan font-size="6.5" dy="-3.5">3</tspan><tspan dy="3.5">)</tspan></text>
<text x="143.70" y="506.80" font-size="9.8" text-anchor="middle" font-weight="normal" fill="#000" >Days Post Tumor Inoculation</text>
<line x1="67.20" y1="355.50" x2="81.00" y2="355.50" stroke="#000000" stroke-width="1.5" />
<circle cx="74.10" cy="355.50" r="2.7" fill="#000000" />
<text x="88.30" y="359.30" font-size="9.9" text-anchor="start" font-weight="normal" fill="#000" >No Treatment</text>
<line x1="67.20" y1="373.80" x2="81.00" y2="373.80" stroke="#ff0000" stroke-width="1.5" />
<circle cx="74.10" cy="373.80" r="2.7" fill="#ff0000" />
<text x="88.30" y="377.60" font-size="9.9" text-anchor="start" font-weight="normal" fill="#000" >Docetaxel</text>
<line x1="67.20" y1="391.40" x2="81.00" y2="391.40" stroke="#0000ff" stroke-width="1.5" />
<circle cx="74.10" cy="391.40" r="2.7" fill="#0000ff" />
<text x="88.30" y="395.20" font-size="9.9" text-anchor="start" font-weight="normal" fill="#000" >NHS-IL-12</text>
<line x1="67.20" y1="408.70" x2="81.00" y2="408.70" stroke="#8b00ff" stroke-width="1.5" />
<circle cx="74.10" cy="408.70" r="2.7" fill="#8b00ff" />
<text x="88.30" y="412.50" font-size="9.9" text-anchor="start" font-weight="normal" fill="#000" >Docetaxel</text>
<text x="88.30" y="424.70" font-size="9.9" text-anchor="start" font-weight="normal" fill="#000" >+ NHS-IL-12</text>
<line x1="160.90" y1="355.00" x2="160.90" y2="409.10" stroke="#000" stroke-width="1.0" />
<line x1="158.20" y1="355.00" x2="160.90" y2="355.00" stroke="#000" stroke-width="1.0" />
<line x1="158.20" y1="409.10" x2="160.90" y2="409.10" stroke="#000" stroke-width="1.0" />
<line x1="150.30" y1="372.60" x2="150.30" y2="409.10" stroke="#000" stroke-width="1.0" />
<line x1="147.20" y1="372.60" x2="150.30" y2="372.60" stroke="#000" stroke-width="1.0" />
<line x1="147.20" y1="409.10" x2="150.30" y2="409.10" stroke="#000" stroke-width="1.0" />
<text transform="translate(161.3,410.0) rotate(-90)" font-size="12.6" font-weight="bold" fill="#222">****</text>
<text transform="translate(173.2,409.4) rotate(-90)" font-size="12.6" font-weight="bold" fill="#222">**</text>
<text x="278.90" y="336.40" font-size="13" text-anchor="start" font-weight="bold" fill="#000" >D</text>
<text x="413.60" y="338.70" font-size="11.35" text-anchor="middle" font-weight="normal" fill="#000" >MC38 Survival Proportions</text>
<line x1="319.20" y1="353.50" x2="319.20" y2="480.40" stroke="#000" stroke-width="1.4" />
<line x1="318.50" y1="479.70" x2="508.78" y2="479.70" stroke="#000" stroke-width="1.4" />
<line x1="313.90" y1="479.70" x2="319.20" y2="479.70" stroke="#000" stroke-width="1.4" />
<text x="313.00" y="483.00" font-size="9.3" text-anchor="end" font-weight="normal" fill="#000" >0</text>
<line x1="313.90" y1="448.32" x2="319.20" y2="448.32" stroke="#000" stroke-width="1.4" />
<text x="313.00" y="451.62" font-size="9.3" text-anchor="end" font-weight="normal" fill="#000" >25</text>
<line x1="313.90" y1="416.95" x2="319.20" y2="416.95" stroke="#000" stroke-width="1.4" />
<text x="313.00" y="420.25" font-size="9.3" text-anchor="end" font-weight="normal" fill="#000" >50</text>
<line x1="313.90" y1="385.57" x2="319.20" y2="385.57" stroke="#000" stroke-width="1.4" />
<text x="313.00" y="388.88" font-size="9.3" text-anchor="end" font-weight="normal" fill="#000" >75</text>
<line x1="313.90" y1="354.20" x2="319.20" y2="354.20" stroke="#000" stroke-width="1.4" />
<text x="313.00" y="357.50" font-size="9.3" text-anchor="end" font-weight="normal" fill="#000" >100</text>
<line x1="319.20" y1="479.70" x2="319.20" y2="485.00" stroke="#000" stroke-width="1.4" />
<text x="319.20" y="494.00" font-size="9.3" text-anchor="middle" font-weight="normal" fill="#000" >0</text>
<line x1="382.16" y1="479.70" x2="382.16" y2="485.00" stroke="#000" stroke-width="1.4" />
<text x="382.16" y="494.00" font-size="9.3" text-anchor="middle" font-weight="normal" fill="#000" >20</text>
<line x1="445.12" y1="479.70" x2="445.12" y2="485.00" stroke="#000" stroke-width="1.4" />
<text x="445.12" y="494.00" font-size="9.3" text-anchor="middle" font-weight="normal" fill="#000" >40</text>
<line x1="508.08" y1="479.70" x2="508.08" y2="485.00" stroke="#000" stroke-width="1.4" />
<text x="508.08" y="494.00" font-size="9.3" text-anchor="middle" font-weight="normal" fill="#000" >60</text>
<polyline points="319.20,354.20 385.31,354.20 385.31,354.20 385.31,354.20 385.31,404.40 394.75,404.40 394.75,404.40 394.75,404.40 394.75,429.50 404.20,429.50 404.20,429.50 404.20,429.50 404.20,479.70" fill="none" stroke="#ff0000" stroke-width="2.3" stroke-linejoin="round" stroke-linejoin="miter" stroke-linecap="butt"/>
<polyline points="319.20,354.20 385.31,354.20 385.31,354.20 385.31,354.20 385.31,379.30 416.79,379.30 416.79,379.30 416.79,379.30 416.79,454.60 508.08,454.60 508.08,454.60" fill="none" stroke="#0000ff" stroke-width="2.3" stroke-linejoin="round" stroke-linejoin="miter" stroke-linecap="butt"/>
<polyline points="319.20,354.20 416.79,354.20 416.79,354.20 416.79,354.20 416.79,375.16 429.38,375.16 429.38,375.16 429.38,375.16 429.38,395.99 441.97,395.99 441.97,395.99 441.97,395.99 441.97,416.95 508.08,416.95 508.08,416.95" fill="none" stroke="#8b00ff" stroke-width="2.3" stroke-linejoin="round" stroke-linejoin="miter" stroke-linecap="butt"/>
<polyline points="319.20,354.20 385.31,354.20 385.31,354.20 385.31,354.20 385.31,379.30 404.20,379.30 404.20,379.30 404.20,379.30 404.20,454.60 416.79,454.60 416.79,454.60 416.79,454.60 416.79,479.70" fill="none" stroke="#000000" stroke-width="2.6" stroke-linejoin="round" stroke-linejoin="miter" stroke-linecap="butt"/>
<text transform="translate(297.2,416.4) rotate(-90)" font-size="10.4" text-anchor="middle">Probability of Survival</text>
<text x="411.80" y="506.30" font-size="10.3" text-anchor="middle" font-weight="normal" fill="#000" >Days Post Tumor Inoculation</text>
<text x="500.30" y="416.00" font-size="12.6" text-anchor="middle" font-weight="bold" fill="#222" >***</text>
<line x1="517.80" y1="354.50" x2="533.00" y2="354.50" stroke="#000000" stroke-width="2.4" />
<line x1="517.80" y1="372.60" x2="533.00" y2="372.60" stroke="#ff0000" stroke-width="2.4" />
<line x1="517.80" y1="392.30" x2="533.00" y2="392.30" stroke="#0000ff" stroke-width="2.4" />
<line x1="517.80" y1="410.10" x2="533.00" y2="410.10" stroke="#8b00ff" stroke-width="2.4" />
<text x="536.20" y="359.10" font-size="10.4" text-anchor="start" font-weight="normal" fill="#000" >No Treatment (27)</text>
<text x="536.20" y="377.60" font-size="10.4" text-anchor="start" font-weight="normal" fill="#000" >Docetaxel (24; p=0.1705)</text>
<text x="536.20" y="396.30" font-size="10.4" text-anchor="start" font-weight="normal" fill="#000" >NHS-IL-12 (31; p=0.1114)</text>
<text x="536.20" y="414.30" font-size="10.4" text-anchor="start" font-weight="normal" fill="#000" >Docetaxel</text>
<text x="664.80" y="414.30" font-size="10.25" text-anchor="end" font-weight="normal" fill="#000" >(49.5; p=0.0024)</text>
<text x="536.20" y="426.50" font-size="10.4" text-anchor="start" font-weight="normal" fill="#000" >+ NHS-IL-12</text>
<text x="148.70" y="561.00" font-size="13.3" text-anchor="start" font-weight="bold" fill="#000" >E</text>
<text x="215.3" y="558.0" font-size="8.6" text-anchor="middle" fill="#1a1a1a">3 x 10<tspan font-size="5.5" dy="-3.2">5</tspan></text>
<text x="216.50" y="568.00" font-size="8.6" text-anchor="middle" font-weight="normal" fill="#1a1a1a" >EMT6</text>
<text x="214.70" y="578.30" font-size="8.6" text-anchor="middle" font-weight="normal" fill="#1a1a1a" >s.c.</text>
<line x1="217.10" y1="580.00" x2="217.10" y2="589.00" stroke="#333" stroke-width="1.2" />
<path d="M212,588 L222.2,588 L217.1,596.7 Z" fill="#333" stroke="none" stroke-width="1" />
<line x1="217.00" y1="605.40" x2="352.80" y2="605.40" stroke="#1c1c1c" stroke-width="1.15" />
<line x1="359.80" y1="605.40" x2="368.80" y2="605.40" stroke="#1c1c1c" stroke-width="1.15" />
<line x1="352.10" y1="609.50" x2="357.10" y2="600.90" stroke="#1c1c1c" stroke-width="1.25" />
<line x1="355.70" y1="610.50" x2="360.70" y2="601.40" stroke="#1c1c1c" stroke-width="1.25" />
<line x1="217.00" y1="601.30" x2="217.00" y2="609.50" stroke="#1c1c1c" stroke-width="1.15" />
<line x1="275.31" y1="601.30" x2="275.31" y2="609.50" stroke="#1c1c1c" stroke-width="1.15" />
<line x1="291.97" y1="601.30" x2="291.97" y2="609.50" stroke="#1c1c1c" stroke-width="1.15" />
<line x1="300.30" y1="601.30" x2="300.30" y2="609.50" stroke="#1c1c1c" stroke-width="1.15" />
<line x1="308.63" y1="601.30" x2="308.63" y2="609.50" stroke="#1c1c1c" stroke-width="1.15" />
<line x1="316.96" y1="601.30" x2="316.96" y2="609.50" stroke="#1c1c1c" stroke-width="1.15" />
<line x1="333.62" y1="601.30" x2="333.62" y2="609.50" stroke="#1c1c1c" stroke-width="1.15" />
<line x1="368.80" y1="601.30" x2="368.80" y2="609.50" stroke="#1c1c1c" stroke-width="1.15" />
<text x="217.20" y="617.00" font-size="8.6" text-anchor="middle" font-weight="normal" fill="#1a1a1a" >d0</text>
<text x="275.51" y="617.00" font-size="8.6" text-anchor="middle" font-weight="normal" fill="#1a1a1a" >d7</text>
<text x="292.17" y="617.00" font-size="8.6" text-anchor="middle" font-weight="normal" fill="#1a1a1a" >d9</text>
<text x="308.83" y="617.00" font-size="8.6" text-anchor="middle" font-weight="normal" fill="#1a1a1a" >d11</text>
<text x="368.20" y="617.00" font-size="8.6" text-anchor="middle" font-weight="normal" fill="#1a1a1a" >dX:</text>
<text x="366.60" y="628.00" font-size="8.6" text-anchor="middle" font-weight="normal" fill="#1a1a1a" >End of</text>
<text x="367.40" y="637.00" font-size="8.6" text-anchor="middle" font-weight="normal" fill="#1a1a1a" >Study</text>
<text x="300.30" y="600.30" font-size="8.6" text-anchor="middle" font-weight="normal" fill="#1a1a1a" >d10</text>
<text x="316.96" y="600.30" font-size="8.6" text-anchor="middle" font-weight="normal" fill="#1a1a1a" >d12</text>
<text x="333.62" y="600.30" font-size="8.6" text-anchor="middle" font-weight="normal" fill="#1a1a1a" >d14</text>
<text x="316.20" y="579.00" font-size="8.6" text-anchor="middle" font-weight="normal" fill="#1a1a1a" >NHS-IL-12</text>
<line x1="300.30" y1="582.00" x2="333.62" y2="582.00" stroke="#333" stroke-width="1.2" />
<line x1="300.30" y1="582.00" x2="300.30" y2="588.00" stroke="#333" stroke-width="1.2" />
<path d="M296.00,587.6 L304.60,587.6 L300.30,592.3 Z" fill="#333" stroke="none" stroke-width="1" />
<line x1="316.96" y1="582.00" x2="316.96" y2="588.00" stroke="#333" stroke-width="1.2" />
<path d="M312.66,587.6 L321.26,587.6 L316.96,592.3 Z" fill="#333" stroke="none" stroke-width="1" />
<line x1="333.62" y1="582.00" x2="333.62" y2="588.00" stroke="#333" stroke-width="1.2" />
<path d="M329.32,587.6 L337.92,587.6 L333.62,592.3 Z" fill="#333" stroke="none" stroke-width="1" />
<line x1="275.31" y1="630.80" x2="308.63" y2="630.80" stroke="#333" stroke-width="1.2" />
<line x1="275.31" y1="630.80" x2="275.31" y2="625.00" stroke="#333" stroke-width="1.2" />
<path d="M270.81,626.3 L279.81,626.3 L275.31,621.4 Z" fill="#333" stroke="none" stroke-width="1" />
<line x1="291.97" y1="630.80" x2="291.97" y2="625.00" stroke="#333" stroke-width="1.2" />
<path d="M287.47,626.3 L296.47,626.3 L291.97,621.4 Z" fill="#333" stroke="none" stroke-width="1" />
<line x1="308.63" y1="630.80" x2="308.63" y2="625.00" stroke="#333" stroke-width="1.2" />
<path d="M304.13,626.3 L313.13,626.3 L308.63,621.4 Z" fill="#333" stroke="none" stroke-width="1" />
<text x="292.20" y="638.90" font-size="8.6" text-anchor="middle" font-weight="normal" fill="#1a1a1a" >Docetaxel</text>
<path d="M158.1,588.7 C161,588.6 163.5,587.6 166.5,585.6 C170,583.2 173.5,580.2 177.5,578.9 C181,577.8 184.5,578.3 187.3,580.3 C189.7,582 191.5,583.6 193.4,585.8" fill="none" stroke="#2a2a2a" stroke-width="2.3" stroke-linecap="round"/>
<path d="M158.1,588.7 C161,588.6 163.5,587.6 166.5,585.6 C170,583.2 173.5,580.2 177.5,578.9 C181,577.8 184.5,578.3 187.3,580.3 C189.7,582 191.5,583.6 193.4,585.8" fill="none" stroke="#d8d8d8" stroke-width="1.0" stroke-linecap="round"/>
<ellipse cx="191.9" cy="601.6" rx="16.7" ry="15.5" fill="#fff" stroke="#1a1a1a" stroke-width="1.0"/>
<circle cx="180.80" cy="608.00" r="7.4" fill="#fff" stroke="#1a1a1a" stroke-width="1.0"/>
<circle cx="202.90" cy="608.00" r="7.4" fill="#fff" stroke="#1a1a1a" stroke-width="1.0"/>
<path d="M174.70,609.00 A6.1,6.3 0 0,1 186.90,609.00 A6.1,3.6 0 0,0 174.70,609.00 Z" fill="#9c9c9c" stroke="none" stroke-width="1" />
<path d="M196.80,609.00 A6.1,6.3 0 0,1 209.00,609.00 A6.1,3.6 0 0,0 196.80,609.00 Z" fill="#9c9c9c" stroke="none" stroke-width="1" />
<path d="M184.5,608.2 L199.2,608.2 L203.6,614.6 C201.2,619.2 196.5,623.8 191.8,627.0 C187.1,623.8 182.4,619.2 180.0,614.6 Z" fill="#fff" stroke="none" stroke-width="1" />
<path d="M179.6,614.2 C182.2,619.0 187.0,623.8 191.8,627.0 C196.6,623.8 201.4,619.0 204.0,614.2" fill="none" stroke="#1a1a1a" stroke-width="1.0" />
<path d="M185.5,622.5 C187.5,624.8 189.5,626.3 191.8,627.0 C194.1,626.3 196.1,624.8 198.1,622.5 C196,623.8 194,624.2 191.8,624.2 C189.6,624.2 187.6,623.8 185.5,622.5 Z" fill="#555" stroke="none" stroke-width="1" />
<ellipse cx="186.9" cy="618.0" rx="1.35" ry="1.7" fill="#111"/>
<ellipse cx="196.0" cy="618.0" rx="1.35" ry="1.7" fill="#111"/>
<ellipse cx="191.6" cy="625.0" rx="2.1" ry="1.35" fill="#111"/>
<line x1="184.80" y1="623.30" x2="177.60" y2="622.80" stroke="#333" stroke-width="0.6" />
<line x1="185.50" y1="624.20" x2="179.00" y2="627.00" stroke="#333" stroke-width="0.6" />
<line x1="186.20" y1="624.80" x2="182.20" y2="629.50" stroke="#333" stroke-width="0.6" />
<line x1="198.60" y1="623.30" x2="205.80" y2="622.80" stroke="#333" stroke-width="0.6" />
<line x1="197.90" y1="624.20" x2="204.40" y2="627.00" stroke="#333" stroke-width="0.6" />
<line x1="197.20" y1="624.80" x2="201.20" y2="629.50" stroke="#333" stroke-width="0.6" />
<text x="190.80" y="637.80" font-size="7.6" text-anchor="middle" font-weight="normal" fill="#1a1a1a" >Balb/c</text>
<text x="61.40" y="664.60" font-size="12.8" text-anchor="start" font-weight="bold" fill="#000" >F</text>
<text x="158.60" y="668.40" font-size="11.9" text-anchor="middle" font-weight="normal" fill="#000" >No Treatment</text>
<line x1="114.70" y1="727.30" x2="114.70" y2="818.00" stroke="#000" stroke-width="1.3" />
<line x1="111.30" y1="727.30" x2="118.90" y2="727.30" stroke="#000" stroke-width="1.3" />
<line x1="114.10" y1="817.40" x2="203.29" y2="817.40" stroke="#000" stroke-width="1.3" />
<line x1="114.70" y1="684.70" x2="114.70" y2="715.30" stroke="#000" stroke-width="1.3" />
<line x1="111.30" y1="715.30" x2="118.90" y2="715.30" stroke="#000" stroke-width="1.3" />
<line x1="109.20" y1="817.40" x2="114.70" y2="817.40" stroke="#000" stroke-width="1.3" />
<text x="108.00" y="820.80" font-size="9.6" text-anchor="end" font-weight="normal" fill="#000" >0</text>
<line x1="109.20" y1="787.37" x2="114.70" y2="787.37" stroke="#000" stroke-width="1.3" />
<text x="108.00" y="790.77" font-size="9.6" text-anchor="end" font-weight="normal" fill="#000" >100</text>
<line x1="109.20" y1="757.33" x2="114.70" y2="757.33" stroke="#000" stroke-width="1.3" />
<text x="108.00" y="760.73" font-size="9.6" text-anchor="end" font-weight="normal" fill="#000" >200</text>
<line x1="109.20" y1="727.30" x2="114.70" y2="727.30" stroke="#000" stroke-width="1.3" />
<text x="108.00" y="730.70" font-size="9.6" text-anchor="end" font-weight="normal" fill="#000" >300</text>
<line x1="108.20" y1="711.90" x2="114.70" y2="711.90" stroke="#000" stroke-width="1.3" />
<text x="106.3" y="714.90" font-size="9.7" text-anchor="end" transform="translate(0,711.90) scale(1,0.88) translate(0,-711.90)">500</text>
<line x1="108.20" y1="703.00" x2="114.70" y2="703.00" stroke="#000" stroke-width="1.3" />
<text x="106.3" y="706.00" font-size="9.7" text-anchor="end" transform="translate(0,703.00) scale(1,0.88) translate(0,-703.00)">1000</text>
<line x1="108.20" y1="694.20" x2="114.70" y2="694.20" stroke="#000" stroke-width="1.3" />
<text x="106.3" y="697.20" font-size="9.7" text-anchor="end" transform="translate(0,694.20) scale(1,0.88) translate(0,-694.20)">1500</text>
<line x1="108.20" y1="685.30" x2="114.70" y2="685.30" stroke="#000" stroke-width="1.3" />
<text x="106.3" y="688.30" font-size="9.7" text-anchor="end" transform="translate(0,685.30) scale(1,0.88) translate(0,-685.30)">2000</text>
<line x1="114.70" y1="817.40" x2="114.70" y2="822.60" stroke="#000" stroke-width="1.3" />
<text x="114.70" y="832.30" font-size="9.6" text-anchor="middle" font-weight="normal" fill="#000" >0</text>
<line x1="129.37" y1="817.40" x2="129.37" y2="822.60" stroke="#000" stroke-width="1.3" />
<text x="129.37" y="832.30" font-size="9.6" text-anchor="middle" font-weight="normal" fill="#000" >7</text>
<line x1="144.03" y1="817.40" x2="144.03" y2="822.60" stroke="#000" stroke-width="1.3" />
<text x="144.03" y="832.30" font-size="9.6" text-anchor="middle" font-weight="normal" fill="#000" >14</text>
<line x1="158.69" y1="817.40" x2="158.69" y2="822.60" stroke="#000" stroke-width="1.3" />
<text x="158.69" y="832.30" font-size="9.6" text-anchor="middle" font-weight="normal" fill="#000" >21</text>
<line x1="173.36" y1="817.40" x2="173.36" y2="822.60" stroke="#000" stroke-width="1.3" />
<text x="173.36" y="832.30" font-size="9.6" text-anchor="middle" font-weight="normal" fill="#000" >28</text>
<line x1="188.03" y1="817.40" x2="188.03" y2="822.60" stroke="#000" stroke-width="1.3" />
<text x="188.03" y="832.30" font-size="9.6" text-anchor="middle" font-weight="normal" fill="#000" >35</text>
<line x1="202.69" y1="817.40" x2="202.69" y2="822.60" stroke="#000" stroke-width="1.3" />
<text x="202.69" y="832.30" font-size="9.6" text-anchor="middle" font-weight="normal" fill="#000" >42</text>
<text x="266.90" y="668.40" font-size="11.9" text-anchor="middle" font-weight="normal" fill="#000" >Docetaxel</text>
<line x1="222.35" y1="727.30" x2="222.35" y2="818.00" stroke="#000" stroke-width="1.3" />
<line x1="218.95" y1="727.30" x2="226.55" y2="727.30" stroke="#000" stroke-width="1.3" />
<line x1="221.75" y1="817.40" x2="310.94" y2="817.40" stroke="#000" stroke-width="1.3" />
<line x1="222.35" y1="684.70" x2="222.35" y2="715.30" stroke="#000" stroke-width="1.3" />
<line x1="218.95" y1="715.30" x2="226.55" y2="715.30" stroke="#000" stroke-width="1.3" />
<line x1="216.85" y1="817.40" x2="222.35" y2="817.40" stroke="#000" stroke-width="1.3" />
<line x1="216.85" y1="787.37" x2="222.35" y2="787.37" stroke="#000" stroke-width="1.3" />
<line x1="216.85" y1="757.33" x2="222.35" y2="757.33" stroke="#000" stroke-width="1.3" />
<line x1="216.85" y1="727.30" x2="222.35" y2="727.30" stroke="#000" stroke-width="1.3" />
<line x1="215.85" y1="711.90" x2="222.35" y2="711.90" stroke="#000" stroke-width="1.3" />
<line x1="215.85" y1="703.00" x2="222.35" y2="703.00" stroke="#000" stroke-width="1.3" />
<line x1="215.85" y1="694.20" x2="222.35" y2="694.20" stroke="#000" stroke-width="1.3" />
<line x1="215.85" y1="685.30" x2="222.35" y2="685.30" stroke="#000" stroke-width="1.3" />
<line x1="222.35" y1="817.40" x2="222.35" y2="822.60" stroke="#000" stroke-width="1.3" />
<text x="222.35" y="832.30" font-size="9.6" text-anchor="middle" font-weight="normal" fill="#000" >0</text>
<line x1="237.01" y1="817.40" x2="237.01" y2="822.60" stroke="#000" stroke-width="1.3" />
<text x="237.01" y="832.30" font-size="9.6" text-anchor="middle" font-weight="normal" fill="#000" >7</text>
<line x1="251.68" y1="817.40" x2="251.68" y2="822.60" stroke="#000" stroke-width="1.3" />
<text x="251.68" y="832.30" font-size="9.6" text-anchor="middle" font-weight="normal" fill="#000" >14</text>
<line x1="266.35" y1="817.40" x2="266.35" y2="822.60" stroke="#000" stroke-width="1.3" />
<text x="266.35" y="832.30" font-size="9.6" text-anchor="middle" font-weight="normal" fill="#000" >21</text>
<line x1="281.01" y1="817.40" x2="281.01" y2="822.60" stroke="#000" stroke-width="1.3" />
<text x="281.01" y="832.30" font-size="9.6" text-anchor="middle" font-weight="normal" fill="#000" >28</text>
<line x1="295.68" y1="817.40" x2="295.68" y2="822.60" stroke="#000" stroke-width="1.3" />
<text x="295.68" y="832.30" font-size="9.6" text-anchor="middle" font-weight="normal" fill="#000" >35</text>
<line x1="310.34" y1="817.40" x2="310.34" y2="822.60" stroke="#000" stroke-width="1.3" />
<text x="310.34" y="832.30" font-size="9.6" text-anchor="middle" font-weight="normal" fill="#000" >42</text>
<text x="371.40" y="668.40" font-size="11.9" text-anchor="middle" font-weight="normal" fill="#000" >NHS-IL-12</text>
<line x1="328.60" y1="727.30" x2="328.60" y2="818.00" stroke="#000" stroke-width="1.3" />
<line x1="325.20" y1="727.30" x2="332.80" y2="727.30" stroke="#000" stroke-width="1.3" />
<line x1="328.00" y1="817.40" x2="417.19" y2="817.40" stroke="#000" stroke-width="1.3" />
<line x1="328.60" y1="684.70" x2="328.60" y2="715.30" stroke="#000" stroke-width="1.3" />
<line x1="325.20" y1="715.30" x2="332.80" y2="715.30" stroke="#000" stroke-width="1.3" />
<line x1="323.10" y1="817.40" x2="328.60" y2="817.40" stroke="#000" stroke-width="1.3" />
<line x1="323.10" y1="787.37" x2="328.60" y2="787.37" stroke="#000" stroke-width="1.3" />
<line x1="323.10" y1="757.33" x2="328.60" y2="757.33" stroke="#000" stroke-width="1.3" />
<line x1="323.10" y1="727.30" x2="328.60" y2="727.30" stroke="#000" stroke-width="1.3" />
<line x1="322.10" y1="711.90" x2="328.60" y2="711.90" stroke="#000" stroke-width="1.3" />
<line x1="322.10" y1="703.00" x2="328.60" y2="703.00" stroke="#000" stroke-width="1.3" />
<line x1="322.10" y1="694.20" x2="328.60" y2="694.20" stroke="#000" stroke-width="1.3" />
<line x1="322.10" y1="685.30" x2="328.60" y2="685.30" stroke="#000" stroke-width="1.3" />
<line x1="328.60" y1="817.40" x2="328.60" y2="822.60" stroke="#000" stroke-width="1.3" />
<text x="328.60" y="832.30" font-size="9.6" text-anchor="middle" font-weight="normal" fill="#000" >0</text>
<line x1="343.27" y1="817.40" x2="343.27" y2="822.60" stroke="#000" stroke-width="1.3" />
<text x="343.27" y="832.30" font-size="9.6" text-anchor="middle" font-weight="normal" fill="#000" >7</text>
<line x1="357.93" y1="817.40" x2="357.93" y2="822.60" stroke="#000" stroke-width="1.3" />
<text x="357.93" y="832.30" font-size="9.6" text-anchor="middle" font-weight="normal" fill="#000" >14</text>
<line x1="372.60" y1="817.40" x2="372.60" y2="822.60" stroke="#000" stroke-width="1.3" />
<text x="372.60" y="832.30" font-size="9.6" text-anchor="middle" font-weight="normal" fill="#000" >21</text>
<line x1="387.26" y1="817.40" x2="387.26" y2="822.60" stroke="#000" stroke-width="1.3" />
<text x="387.26" y="832.30" font-size="9.6" text-anchor="middle" font-weight="normal" fill="#000" >28</text>
<line x1="401.93" y1="817.40" x2="401.93" y2="822.60" stroke="#000" stroke-width="1.3" />
<text x="401.93" y="832.30" font-size="9.6" text-anchor="middle" font-weight="normal" fill="#000" >35</text>
<line x1="416.59" y1="817.40" x2="416.59" y2="822.60" stroke="#000" stroke-width="1.3" />
<text x="416.59" y="832.30" font-size="9.6" text-anchor="middle" font-weight="normal" fill="#000" >42</text>
<text x="477.00" y="660.60" font-size="11.9" text-anchor="middle" font-weight="normal" fill="#000" >Docetaxel +</text>
<text x="478.50" y="675.30" font-size="11.9" text-anchor="middle" font-weight="normal" fill="#000" >NHS-IL-12</text>
<line x1="433.90" y1="727.30" x2="433.90" y2="818.00" stroke="#000" stroke-width="1.3" />
<line x1="430.50" y1="727.30" x2="438.10" y2="727.30" stroke="#000" stroke-width="1.3" />
<line x1="433.30" y1="817.40" x2="522.49" y2="817.40" stroke="#000" stroke-width="1.3" />
<line x1="433.90" y1="684.70" x2="433.90" y2="715.30" stroke="#000" stroke-width="1.3" />
<line x1="430.50" y1="715.30" x2="438.10" y2="715.30" stroke="#000" stroke-width="1.3" />
<line x1="428.40" y1="817.40" x2="433.90" y2="817.40" stroke="#000" stroke-width="1.3" />
<line x1="428.40" y1="787.37" x2="433.90" y2="787.37" stroke="#000" stroke-width="1.3" />
<line x1="428.40" y1="757.33" x2="433.90" y2="757.33" stroke="#000" stroke-width="1.3" />
<line x1="428.40" y1="727.30" x2="433.90" y2="727.30" stroke="#000" stroke-width="1.3" />
<line x1="427.40" y1="711.90" x2="433.90" y2="711.90" stroke="#000" stroke-width="1.3" />
<line x1="427.40" y1="703.00" x2="433.90" y2="703.00" stroke="#000" stroke-width="1.3" />
<line x1="427.40" y1="694.20" x2="433.90" y2="694.20" stroke="#000" stroke-width="1.3" />
<line x1="427.40" y1="685.30" x2="433.90" y2="685.30" stroke="#000" stroke-width="1.3" />
<line x1="433.90" y1="817.40" x2="433.90" y2="822.60" stroke="#000" stroke-width="1.3" />
<text x="433.90" y="832.30" font-size="9.6" text-anchor="middle" font-weight="normal" fill="#000" >0</text>
<line x1="448.56" y1="817.40" x2="448.56" y2="822.60" stroke="#000" stroke-width="1.3" />
<text x="448.56" y="832.30" font-size="9.6" text-anchor="middle" font-weight="normal" fill="#000" >7</text>
<line x1="463.23" y1="817.40" x2="463.23" y2="822.60" stroke="#000" stroke-width="1.3" />
<text x="463.23" y="832.30" font-size="9.6" text-anchor="middle" font-weight="normal" fill="#000" >14</text>
<line x1="477.89" y1="817.40" x2="477.89" y2="822.60" stroke="#000" stroke-width="1.3" />
<text x="477.89" y="832.30" font-size="9.6" text-anchor="middle" font-weight="normal" fill="#000" >21</text>
<line x1="492.56" y1="817.40" x2="492.56" y2="822.60" stroke="#000" stroke-width="1.3" />
<text x="492.56" y="832.30" font-size="9.6" text-anchor="middle" font-weight="normal" fill="#000" >28</text>
<line x1="507.22" y1="817.40" x2="507.22" y2="822.60" stroke="#000" stroke-width="1.3" />
<text x="507.22" y="832.30" font-size="9.6" text-anchor="middle" font-weight="normal" fill="#000" >35</text>
<line x1="521.89" y1="817.40" x2="521.89" y2="822.60" stroke="#000" stroke-width="1.3" />
<text x="521.89" y="832.30" font-size="9.6" text-anchor="middle" font-weight="normal" fill="#000" >42</text>
<text x="203.00" y="814.60" font-size="9.3" text-anchor="end" font-weight="normal" fill="#000" >tumor free: 0/9</text>
<text x="312.00" y="814.60" font-size="9.3" text-anchor="end" font-weight="normal" fill="#000" >2/10</text>
<text x="418.30" y="814.60" font-size="9.3" text-anchor="end" font-weight="normal" fill="#000" >1/10</text>
<text x="522.10" y="814.60" font-size="9.3" text-anchor="end" font-weight="normal" fill="#000" >4/9</text>
<text transform="translate(81.4,751.0) rotate(-90)" font-size="10.6" text-anchor="middle">Tumor Volume (mm<tspan font-size="6.6" dy="-3.5">3</tspan><tspan dy="3.5">)</tspan></text>
<line x1="114.70" y1="844.60" x2="240.80" y2="844.60" stroke="#000" stroke-width="1.2" />
<line x1="394.30" y1="844.60" x2="522.20" y2="844.60" stroke="#000" stroke-width="1.2" />
<text x="318.20" y="848.30" font-size="11.1" text-anchor="middle" font-weight="normal" fill="#000" >Days Post Tumor Inoculation</text>
<polyline points="115.37,817.19 129.79,779.69 132.67,778.73 141.81,727.29" fill="none" stroke="#000" stroke-width="1.15" stroke-linejoin="round" />
<polyline points="115.37,817.19 129.31,802.77 130.27,795.08 136.04,787.38 137.00,778.73 137.96,768.15 143.73,772.96 145.65,750.85 148.54,727.29" fill="none" stroke="#000" stroke-width="1.15" stroke-linejoin="round" />
<polyline points="115.37,817.19 131.23,789.31 135.08,778.73 140.85,741.23 142.77,727.29" fill="none" stroke="#000" stroke-width="1.15" stroke-linejoin="round" />
<polyline points="115.37,817.19 130.27,795.08 136.04,788.35 137.96,770.08 147.58,727.29" fill="none" stroke="#000" stroke-width="1.15" stroke-linejoin="round" />
<polyline points="115.37,817.19 132.19,791.23 136.04,779.69 145.65,741.23 149.02,727.29" fill="none" stroke="#000" stroke-width="1.15" stroke-linejoin="round" />
<polyline points="115.37,817.19 131.23,784.50 136.04,770.08 140.85,727.29" fill="none" stroke="#000" stroke-width="1.15" stroke-linejoin="round" />
<polyline points="115.37,817.19 129.31,791.23 134.12,779.69 139.88,750.85 142.29,727.29" fill="none" stroke="#000" stroke-width="1.15" stroke-linejoin="round" />
<polyline points="115.37,817.19 128.35,798.92 135.08,781.62 138.92,760.46 144.69,737.38 146.62,727.29" fill="none" stroke="#000" stroke-width="1.15" stroke-linejoin="round" />
<polyline points="115.37,817.19 127.38,806.62 130.75,797.96 137.00,779.69 140.85,755.65 148.06,727.29" fill="none" stroke="#000" stroke-width="1.15" stroke-linejoin="round" />
<polyline points="115.37,817.19 130.75,787.38 137.00,768.15 141.33,743.15 144.21,727.29" fill="none" stroke="#000" stroke-width="1.15" stroke-linejoin="round" />
<polyline points="143.87,715.23 147.86,711.91 155.84,705.26 161.15,697.95 168.47,685.32" fill="none" stroke="#000" stroke-width="1.15" stroke-linejoin="round" />
<polyline points="144.54,714.83 153.18,707.92 158.50,702.60 165.14,697.28 170.46,685.32" fill="none" stroke="#000" stroke-width="1.15" stroke-linejoin="round" />
<polyline points="145.20,714.57 154.51,706.59 161.15,699.94 169.13,694.62 172.45,685.32" fill="none" stroke="#000" stroke-width="1.15" stroke-linejoin="round" />
<polyline points="149.19,715.23 158.50,715.23 172.45,705.92 175.78,694.62 179.77,685.32" fill="none" stroke="#000" stroke-width="1.15" stroke-linejoin="round" />
<polyline points="149.19,714.83 157.17,708.58 165.14,703.27 173.12,695.95 177.77,685.32" fill="none" stroke="#000" stroke-width="1.15" stroke-linejoin="round" />
<polyline points="145.87,713.90 155.84,705.92 163.81,701.27 173.78,691.96 178.44,685.32" fill="none" stroke="#000" stroke-width="1.15" stroke-linejoin="round" />
<polyline points="146.53,713.24 159.82,702.60 169.13,697.28 174.45,690.64 176.44,685.32" fill="none" stroke="#000" stroke-width="1.15" stroke-linejoin="round" />
<polyline points="222.40,817.20 236.80,774.40 239.70,780.70 242.60,753.70 245.50,748.00 249.80,727.30" fill="none" stroke="#000" stroke-width="1.15" stroke-linejoin="round" />
<polyline points="222.40,817.20 239.20,784.50 246.90,760.50 252.70,727.30" fill="none" stroke="#000" stroke-width="1.15" stroke-linejoin="round" />
<polyline points="222.40,817.20 240.20,783.50 248.80,750.80 254.10,727.30" fill="none" stroke="#000" stroke-width="1.15" stroke-linejoin="round" />
<polyline points="222.40,817.20 241.20,781.60 251.70,760.50 255.60,727.30" fill="none" stroke="#000" stroke-width="1.15" stroke-linejoin="round" />
<polyline points="222.40,817.20 242.10,784.50 250.80,760.50 256.30,727.30" fill="none" stroke="#000" stroke-width="1.15" stroke-linejoin="round" />
<polyline points="222.40,817.20 243.10,785.50 251.70,778.70 258.50,777.80 265.20,780.70 270.00,789.30 271.90,798.90 279.60,814.30 281.10,817.20" fill="none" stroke="#000" stroke-width="1.15" stroke-linejoin="round" />
<polyline points="222.40,817.20 242.10,784.50 248.80,787.40 251.70,788.30 253.20,777.80 258.00,747.50 267.10,768.20 271.70,769.10 273.70,765.70 281.30,727.30" fill="none" stroke="#000" stroke-width="1.15" stroke-linejoin="round" />
<polyline points="222.40,817.20 244.00,785.50 251.70,779.70 258.00,770.60 261.30,779.70 266.20,799.90 272.40,785.50 281.10,817.20 287.60,776.80 295.80,770.60 302.00,752.80 307.80,727.30" fill="none" stroke="#000" stroke-width="1.15" stroke-linejoin="round" />
<polyline points="222.40,817.20 245.00,787.40 253.70,778.70 260.40,773.90 267.10,769.10 272.20,768.60 280.90,751.80 285.20,727.30" fill="none" stroke="#000" stroke-width="1.15" stroke-linejoin="round" />
<polyline points="222.40,817.20 237.30,804.70 243.10,796.50 251.70,802.80 258.50,809.50 266.20,808.10 272.40,817.20" fill="none" stroke="#000" stroke-width="1.15" stroke-linejoin="round" />
<polyline points="251.23,715.10 257.73,713.09 267.18,708.36 277.22,685.32" fill="none" stroke="#000" stroke-width="1.15" stroke-linejoin="round" />
<polyline points="257.13,715.10 257.73,710.96 265.41,710.49 270.72,705.41 280.18,685.32" fill="none" stroke="#000" stroke-width="1.15" stroke-linejoin="round" />
<polyline points="257.73,714.27 267.18,711.91 274.27,704.82 281.95,685.32" fill="none" stroke="#000" stroke-width="1.15" stroke-linejoin="round" />
<polyline points="256.54,715.10 266.59,713.09 275.45,704.22 283.49,685.32" fill="none" stroke="#000" stroke-width="1.15" stroke-linejoin="round" />
<polyline points="257.73,715.10 267.18,713.68 279.00,701.27 287.27,685.32" fill="none" stroke="#000" stroke-width="1.15" stroke-linejoin="round" />
<polyline points="285.49,715.10 286.68,709.54 289.63,707.18 295.54,702.45 300.86,685.32" fill="none" stroke="#000" stroke-width="1.15" stroke-linejoin="round" />
<polyline points="287.27,715.10 287.86,710.96 289.63,709.54" fill="none" stroke="#000" stroke-width="1.15" stroke-linejoin="round" />
<circle cx="310.31" cy="715.10" r="0.7" fill="#000" />
<polyline points="328.70,817.20 343.30,773.90 345.20,779.70 349.60,745.10 352.40,750.80 355.80,727.30" fill="none" stroke="#000" stroke-width="1.15" stroke-linejoin="round" />
<polyline points="328.70,817.20 344.30,775.80 348.10,775.80 352.00,748.00 354.80,753.70 358.20,727.30" fill="none" stroke="#000" stroke-width="1.15" stroke-linejoin="round" />
<polyline points="328.70,817.20 345.20,779.70 351.00,755.70 357.70,753.70 361.10,727.30" fill="none" stroke="#000" stroke-width="1.15" stroke-linejoin="round" />
<polyline points="328.70,817.20 346.20,781.60 354.80,750.80 362.10,727.30" fill="none" stroke="#000" stroke-width="1.15" stroke-linejoin="round" />
<polyline points="328.70,817.20 347.20,781.60 358.70,772.00 364.00,764.30 367.30,775.80 371.90,781.60 378.20,727.30 380.10,727.30 387.30,817.20" fill="none" stroke="#000" stroke-width="1.15" stroke-linejoin="round" />
<polyline points="328.70,817.20 343.30,797.00 348.10,783.50 357.70,779.70 364.50,779.20 369.30,783.50 373.10,798.90 376.00,791.00 378.70,789.30 379.60,793.20 393.10,753.70 399.80,727.30" fill="none" stroke="#000" stroke-width="1.15" stroke-linejoin="round" />
<polyline points="328.70,817.20 348.10,781.60 359.70,777.80 363.50,770.10 366.40,775.80 371.20,783.50 373.80,787.40 378.70,793.20 387.30,817.20 393.10,817.20 399.80,727.30" fill="none" stroke="#000" stroke-width="1.15" stroke-linejoin="round" />
<polyline points="328.70,817.20 349.10,779.70 360.60,774.90 364.50,773.90 367.30,777.80 372.60,795.10 376.00,791.20 378.70,789.30 387.30,817.20" fill="none" stroke="#000" stroke-width="1.15" stroke-linejoin="round" />
<polyline points="328.70,817.20 345.50,781.00 356.00,777.00 363.00,775.00 369.00,781.00 374.00,792.00 387.30,817.20" fill="none" stroke="#000" stroke-width="1.15" stroke-linejoin="round" />
<polyline points="357.41,715.10 363.91,711.31 372.18,708.36 382.81,685.32" fill="none" stroke="#000" stroke-width="1.15" stroke-linejoin="round" />
<polyline points="358.00,714.86 368.63,710.13 378.09,707.77 386.36,685.32" fill="none" stroke="#000" stroke-width="1.15" stroke-linejoin="round" />
<polyline points="358.00,715.10 366.27,711.91 374.54,710.13 380.45,706.00 387.54,700.09 392.27,685.32" fill="none" stroke="#000" stroke-width="1.15" stroke-linejoin="round" />
<polyline points="359.18,714.27 373.36,708.36 385.18,685.32" fill="none" stroke="#000" stroke-width="1.15" stroke-linejoin="round" />
<polyline points="360.36,715.10 368.63,710.96 385.77,685.32" fill="none" stroke="#000" stroke-width="1.15" stroke-linejoin="round" />
<polyline points="378.68,715.10 384.00,685.32" fill="none" stroke="#000" stroke-width="1.15" stroke-linejoin="round" />
<polyline points="382.81,715.10 393.45,685.32" fill="none" stroke="#000" stroke-width="1.15" stroke-linejoin="round" />
<polyline points="401.72,715.10 408.81,685.32" fill="none" stroke="#000" stroke-width="1.15" stroke-linejoin="round" />
<polyline points="401.72,715.10 416.49,706.00" fill="none" stroke="#000" stroke-width="1.15" stroke-linejoin="round" />
<polyline points="433.73,816.53 448.94,791.42 454.85,761.14 469.62,746.37 474.79,727.17" fill="none" stroke="#000" stroke-width="1.15" stroke-linejoin="round" />
<polyline points="433.73,816.53 449.68,792.90 454.11,766.31 458.54,781.08 463.71,804.72 469.18,816.53" fill="none" stroke="#000" stroke-width="1.15" stroke-linejoin="round" />
<polyline points="433.73,816.53 448.20,806.93 453.37,784.04 460.02,791.42 464.45,806.19 469.18,816.53" fill="none" stroke="#000" stroke-width="1.15" stroke-linejoin="round" />
<polyline points="433.73,816.53 451.16,791.42 455.59,786.99 468.88,778.13 477.74,783.30 484.39,781.82 492.52,753.02 496.21,727.17" fill="none" stroke="#000" stroke-width="1.15" stroke-linejoin="round" />
<polyline points="433.73,816.53 449.68,795.86 458.54,786.99 465.19,775.18 477.74,763.36 483.65,746.37 487.35,727.17" fill="none" stroke="#000" stroke-width="1.15" stroke-linejoin="round" />
<polyline points="433.73,816.53 451.16,795.86 454.85,789.95 464.45,798.81 477.74,798.81 484.39,806.93 498.42,806.19 507.29,790.69 512.46,727.17" fill="none" stroke="#000" stroke-width="1.15" stroke-linejoin="round" />
<polyline points="433.73,816.53 452.63,792.90 458.54,791.42 464.45,806.19 469.62,807.67 477.74,785.52 480.70,758.93 483.65,747.11 488.08,775.18 492.52,816.53" fill="none" stroke="#000" stroke-width="1.15" stroke-linejoin="round" />
<polyline points="433.73,816.53 448.94,794.38 454.85,782.56 462.97,798.81 468.88,810.63 477.74,816.53" fill="none" stroke="#000" stroke-width="1.15" stroke-linejoin="round" />
<polyline points="433.73,816.53 451.16,795.86 457.06,789.21 464.45,795.86 477.74,816.53" fill="none" stroke="#000" stroke-width="1.15" stroke-linejoin="round" />
<polyline points="477.16,715.23 484.91,712.68 498.20,696.62 502.63,684.99" fill="none" stroke="#000" stroke-width="1.15" stroke-linejoin="round" />
<polyline points="484.91,712.68 492.66,709.36 497.10,698.83 505.96,684.99" fill="none" stroke="#000" stroke-width="1.15" stroke-linejoin="round" />
<polyline points="491.56,715.23 493.77,709.91 507.07,697.72 510.39,684.99" fill="none" stroke="#000" stroke-width="1.15" stroke-linejoin="round" />
<polyline points="497.65,715.23 498.76,708.80 506.51,703.82 508.17,697.72 511.50,684.99" fill="none" stroke="#000" stroke-width="1.15" stroke-linejoin="round" />
<polyline points="513.16,715.23 522.02,696.62" fill="none" stroke="#000" stroke-width="1.15" stroke-linejoin="round" />
<polyline points="477.16,715.23 486.02,711.57 497.10,695.51 504.30,684.99" fill="none" stroke="#000" stroke-width="1.15" stroke-linejoin="round" />
<text x="0.70" y="869.00" font-size="13" text-anchor="start" font-weight="bold" fill="#000" >G</text>
<text x="141.60" y="868.40" font-size="11.6" text-anchor="middle" font-weight="normal" fill="#000" >EMT6 Tumor Growth</text>
<line x1="47.50" y1="882.15" x2="47.50" y2="1009.90" stroke="#000" stroke-width="1.4" />
<line x1="46.80" y1="1009.20" x2="237.79" y2="1009.20" stroke="#000" stroke-width="1.4" />
<line x1="42.20" y1="1009.20" x2="47.50" y2="1009.20" stroke="#000" stroke-width="1.4" />
<text x="41.10" y="1012.50" font-size="9.5" text-anchor="end" font-weight="normal" fill="#000" >0</text>
<line x1="42.20" y1="983.93" x2="47.50" y2="983.93" stroke="#000" stroke-width="1.4" />
<text x="41.10" y="987.23" font-size="9.5" text-anchor="end" font-weight="normal" fill="#000" >500</text>
<line x1="42.20" y1="958.66" x2="47.50" y2="958.66" stroke="#000" stroke-width="1.4" />
<text x="41.10" y="961.96" font-size="9.5" text-anchor="end" font-weight="normal" fill="#000" >1000</text>
<line x1="42.20" y1="933.39" x2="47.50" y2="933.39" stroke="#000" stroke-width="1.4" />
<text x="41.10" y="936.69" font-size="9.5" text-anchor="end" font-weight="normal" fill="#000" >1500</text>
<line x1="42.20" y1="908.12" x2="47.50" y2="908.12" stroke="#000" stroke-width="1.4" />
<text x="41.10" y="911.42" font-size="9.5" text-anchor="end" font-weight="normal" fill="#000" >2000</text>
<line x1="42.20" y1="882.85" x2="47.50" y2="882.85" stroke="#000" stroke-width="1.4" />
<text x="41.10" y="886.15" font-size="9.5" text-anchor="end" font-weight="normal" fill="#000" >2500</text>
<line x1="47.50" y1="1009.20" x2="47.50" y2="1014.50" stroke="#000" stroke-width="1.4" />
<text x="47.50" y="1023.00" font-size="9.5" text-anchor="middle" font-weight="normal" fill="#000" >0</text>
<line x1="94.90" y1="1009.20" x2="94.90" y2="1014.50" stroke="#000" stroke-width="1.4" />
<text x="94.90" y="1023.00" font-size="9.5" text-anchor="middle" font-weight="normal" fill="#000" >7</text>
<line x1="142.29" y1="1009.20" x2="142.29" y2="1014.50" stroke="#000" stroke-width="1.4" />
<text x="142.29" y="1023.00" font-size="9.5" text-anchor="middle" font-weight="normal" fill="#000" >14</text>
<line x1="189.69" y1="1009.20" x2="189.69" y2="1014.50" stroke="#000" stroke-width="1.4" />
<text x="189.69" y="1023.00" font-size="9.5" text-anchor="middle" font-weight="normal" fill="#000" >21</text>
<line x1="237.09" y1="1009.20" x2="237.09" y2="1014.50" stroke="#000" stroke-width="1.4" />
<text x="237.09" y="1023.00" font-size="9.5" text-anchor="middle" font-weight="normal" fill="#000" >28</text>
<polyline points="47.50,1009.20 94.90,1005.41 115.21,1003.39 142.29,1004.80 162.61,1004.80 189.69,1003.29 210.00,1000.96 237.09,996.16" fill="none" stroke="#8b00ff" stroke-width="1.5" stroke-linejoin="round" />
<line x1="210.00" y1="1004.15" x2="210.00" y2="997.58" stroke="#8b00ff" stroke-width="1.4" />
<line x1="207.10" y1="997.58" x2="212.90" y2="997.58" stroke="#8b00ff" stroke-width="1.4" />
<line x1="207.10" y1="1004.15" x2="212.90" y2="1004.15" stroke="#8b00ff" stroke-width="1.4" />
<line x1="237.09" y1="1004.65" x2="237.09" y2="989.49" stroke="#8b00ff" stroke-width="1.4" />
<line x1="234.19" y1="989.49" x2="239.99" y2="989.49" stroke="#8b00ff" stroke-width="1.4" />
<line x1="234.19" y1="1004.65" x2="239.99" y2="1004.65" stroke="#8b00ff" stroke-width="1.4" />
<circle cx="47.50" cy="1009.20" r="2.5" fill="#8b00ff" />
<circle cx="94.90" cy="1005.41" r="2.5" fill="#8b00ff" />
<circle cx="115.21" cy="1003.39" r="2.5" fill="#8b00ff" />
<circle cx="142.29" cy="1004.80" r="2.5" fill="#8b00ff" />
<circle cx="162.61" cy="1004.80" r="2.5" fill="#8b00ff" />
<circle cx="189.69" cy="1003.29" r="2.5" fill="#8b00ff" />
<circle cx="210.00" cy="1000.96" r="2.5" fill="#8b00ff" />
<circle cx="237.09" cy="996.16" r="2.5" fill="#8b00ff" />
<polyline points="47.50,1009.20 94.90,1005.66 115.21,1003.89 142.29,1000.56 162.61,995.76 189.69,993.28 210.00,984.03 237.09,963.36" fill="none" stroke="#ff0000" stroke-width="1.5" stroke-linejoin="round" />
<line x1="162.61" y1="999.09" x2="162.61" y2="992.02" stroke="#ff0000" stroke-width="1.4" />
<line x1="159.71" y1="992.02" x2="165.51" y2="992.02" stroke="#ff0000" stroke-width="1.4" />
<line x1="159.71" y1="999.09" x2="165.51" y2="999.09" stroke="#ff0000" stroke-width="1.4" />
<line x1="189.69" y1="997.58" x2="189.69" y2="988.98" stroke="#ff0000" stroke-width="1.4" />
<line x1="186.79" y1="988.98" x2="192.59" y2="988.98" stroke="#ff0000" stroke-width="1.4" />
<line x1="186.79" y1="997.58" x2="192.59" y2="997.58" stroke="#ff0000" stroke-width="1.4" />
<line x1="210.00" y1="991.01" x2="210.00" y2="975.84" stroke="#ff0000" stroke-width="1.4" />
<line x1="207.10" y1="975.84" x2="212.90" y2="975.84" stroke="#ff0000" stroke-width="1.4" />
<line x1="207.10" y1="991.01" x2="212.90" y2="991.01" stroke="#ff0000" stroke-width="1.4" />
<line x1="237.09" y1="982.92" x2="237.09" y2="948.05" stroke="#ff0000" stroke-width="1.4" />
<line x1="234.19" y1="948.05" x2="239.99" y2="948.05" stroke="#ff0000" stroke-width="1.4" />
<line x1="234.19" y1="982.92" x2="239.99" y2="982.92" stroke="#ff0000" stroke-width="1.4" />
<circle cx="47.50" cy="1009.20" r="2.5" fill="#ff0000" />
<circle cx="94.90" cy="1005.66" r="2.5" fill="#ff0000" />
<circle cx="115.21" cy="1003.89" r="2.5" fill="#ff0000" />
<circle cx="142.29" cy="1000.56" r="2.5" fill="#ff0000" />
<circle cx="162.61" cy="995.76" r="2.5" fill="#ff0000" />
<circle cx="189.69" cy="993.28" r="2.5" fill="#ff0000" />
<circle cx="210.00" cy="984.03" r="2.5" fill="#ff0000" />
<circle cx="237.09" cy="963.36" r="2.5" fill="#ff0000" />
<polyline points="47.50,1009.20 94.90,1004.65 115.21,1002.63 142.29,998.99 162.61,991.36 189.69,989.74 210.00,980.34 237.09,943.19" fill="none" stroke="#0000ff" stroke-width="1.5" stroke-linejoin="round" />
<line x1="162.61" y1="993.03" x2="162.61" y2="989.99" stroke="#0000ff" stroke-width="1.4" />
<line x1="159.71" y1="989.99" x2="165.51" y2="989.99" stroke="#0000ff" stroke-width="1.4" />
<line x1="159.71" y1="993.03" x2="165.51" y2="993.03" stroke="#0000ff" stroke-width="1.4" />
<line x1="189.69" y1="994.54" x2="189.69" y2="984.44" stroke="#0000ff" stroke-width="1.4" />
<line x1="186.79" y1="984.44" x2="192.59" y2="984.44" stroke="#0000ff" stroke-width="1.4" />
<line x1="186.79" y1="994.54" x2="192.59" y2="994.54" stroke="#0000ff" stroke-width="1.4" />
<line x1="210.00" y1="986.96" x2="210.00" y2="973.82" stroke="#0000ff" stroke-width="1.4" />
<line x1="207.10" y1="973.82" x2="212.90" y2="973.82" stroke="#0000ff" stroke-width="1.4" />
<line x1="207.10" y1="986.96" x2="212.90" y2="986.96" stroke="#0000ff" stroke-width="1.4" />
<line x1="237.09" y1="959.67" x2="237.09" y2="926.31" stroke="#0000ff" stroke-width="1.4" />
<line x1="234.19" y1="926.31" x2="239.99" y2="926.31" stroke="#0000ff" stroke-width="1.4" />
<line x1="234.19" y1="959.67" x2="239.99" y2="959.67" stroke="#0000ff" stroke-width="1.4" />
<circle cx="47.50" cy="1009.20" r="2.5" fill="#0000ff" />
<circle cx="94.90" cy="1004.65" r="2.5" fill="#0000ff" />
<circle cx="115.21" cy="1002.63" r="2.5" fill="#0000ff" />
<circle cx="142.29" cy="998.99" r="2.5" fill="#0000ff" />
<circle cx="162.61" cy="991.36" r="2.5" fill="#0000ff" />
<circle cx="189.69" cy="989.74" r="2.5" fill="#0000ff" />
<circle cx="210.00" cy="980.34" r="2.5" fill="#0000ff" />
<circle cx="237.09" cy="943.19" r="2.5" fill="#0000ff" />
<polyline points="47.50,1009.20 94.90,1005.91 115.21,1001.52 142.29,995.81 162.61,984.23 189.69,970.49 210.00,948.96 237.09,912.72" fill="none" stroke="#000000" stroke-width="1.5" stroke-linejoin="round" />
<line x1="189.69" y1="974.83" x2="189.69" y2="966.24" stroke="#000000" stroke-width="1.4" />
<line x1="186.79" y1="966.24" x2="192.59" y2="966.24" stroke="#000000" stroke-width="1.4" />
<line x1="186.79" y1="974.83" x2="192.59" y2="974.83" stroke="#000000" stroke-width="1.4" />
<line x1="210.00" y1="955.12" x2="210.00" y2="942.49" stroke="#000000" stroke-width="1.4" />
<line x1="207.10" y1="942.49" x2="212.90" y2="942.49" stroke="#000000" stroke-width="1.4" />
<line x1="207.10" y1="955.12" x2="212.90" y2="955.12" stroke="#000000" stroke-width="1.4" />
<line x1="237.09" y1="922.27" x2="237.09" y2="903.57" stroke="#000000" stroke-width="1.4" />
<line x1="234.19" y1="903.57" x2="239.99" y2="903.57" stroke="#000000" stroke-width="1.4" />
<line x1="234.19" y1="922.27" x2="239.99" y2="922.27" stroke="#000000" stroke-width="1.4" />
<circle cx="47.50" cy="1009.20" r="2.5" fill="#000000" />
<circle cx="94.90" cy="1005.91" r="2.5" fill="#000000" />
<circle cx="115.21" cy="1001.52" r="2.5" fill="#000000" />
<circle cx="142.29" cy="995.81" r="2.5" fill="#000000" />
<circle cx="162.61" cy="984.23" r="2.5" fill="#000000" />
<circle cx="189.69" cy="970.49" r="2.5" fill="#000000" />
<circle cx="210.00" cy="948.96" r="2.5" fill="#000000" />
<circle cx="237.09" cy="912.72" r="2.5" fill="#000000" />
<text transform="translate(13.4,947.0) rotate(-90)" font-size="10.3" text-anchor="middle">Tumor Volume (mm<tspan font-size="6.6" dy="-3.5">3</tspan><tspan dy="3.5">)</tspan></text>
<text x="140.90" y="1036.50" font-size="10.2" text-anchor="middle" font-weight="normal" fill="#000" >Days Post Tumor Inoculation</text>
<line x1="59.50" y1="883.80" x2="73.90" y2="883.80" stroke="#000000" stroke-width="1.5" />
<circle cx="66.40" cy="883.80" r="2.7" fill="#000000" />
<text x="81.40" y="887.60" font-size="10.3" text-anchor="start" font-weight="normal" fill="#000" >No Treatment</text>
<line x1="59.50" y1="901.50" x2="73.90" y2="901.50" stroke="#ff0000" stroke-width="1.5" />
<circle cx="66.40" cy="901.50" r="2.7" fill="#ff0000" />
<text x="81.40" y="905.30" font-size="10.3" text-anchor="start" font-weight="normal" fill="#000" >Docetaxel</text>
<line x1="59.50" y1="919.30" x2="73.90" y2="919.30" stroke="#0000ff" stroke-width="1.5" />
<circle cx="66.40" cy="919.30" r="2.7" fill="#0000ff" />
<text x="81.40" y="923.10" font-size="10.3" text-anchor="start" font-weight="normal" fill="#000" >NHS-IL-12</text>
<line x1="59.50" y1="936.90" x2="73.90" y2="936.90" stroke="#8b00ff" stroke-width="1.5" />
<circle cx="66.40" cy="936.90" r="2.7" fill="#8b00ff" />
<text x="81.40" y="940.70" font-size="10.3" text-anchor="start" font-weight="normal" fill="#000" >Docetaxel</text>
<text x="81.40" y="952.40" font-size="10.3" text-anchor="start" font-weight="normal" fill="#000" >+ NHS-IL-12</text>
<line x1="142.10" y1="918.40" x2="142.10" y2="938.20" stroke="#000" stroke-width="1.0" />
<line x1="139.10" y1="918.40" x2="142.10" y2="918.40" stroke="#000" stroke-width="1.0" />
<line x1="139.10" y1="938.20" x2="142.10" y2="938.20" stroke="#000" stroke-width="1.0" />
<line x1="152.60" y1="901.10" x2="152.60" y2="938.20" stroke="#000" stroke-width="1.0" />
<line x1="149.60" y1="901.10" x2="152.60" y2="901.10" stroke="#000" stroke-width="1.0" />
<line x1="149.60" y1="938.20" x2="152.60" y2="938.20" stroke="#000" stroke-width="1.0" />
<line x1="164.50" y1="883.80" x2="164.50" y2="938.20" stroke="#000" stroke-width="1.0" />
<line x1="161.50" y1="883.80" x2="164.50" y2="883.80" stroke="#000" stroke-width="1.0" />
<line x1="161.50" y1="938.20" x2="164.50" y2="938.20" stroke="#000" stroke-width="1.0" />
<text transform="translate(151.3,939.0) rotate(-90)" font-size="12.6" font-weight="bold" fill="#222">****</text>
<text transform="translate(163.7,939.0) rotate(-90)" font-size="12.6" font-weight="bold" fill="#222">****</text>
<text transform="translate(174.9,939.0) rotate(-90)" font-size="12.6" font-weight="bold" fill="#222">****</text>
<text x="277.40" y="869.00" font-size="13" text-anchor="start" font-weight="bold" fill="#000" >H</text>
<text x="418.50" y="871.90" font-size="11.2" text-anchor="middle" font-weight="normal" fill="#000" >EMT6 Survival Proportions</text>
<line x1="325.90" y1="885.00" x2="325.90" y2="1010.10" stroke="#000" stroke-width="1.4" />
<line x1="325.20" y1="1009.40" x2="513.21" y2="1009.40" stroke="#000" stroke-width="1.4" />
<line x1="320.60" y1="1009.40" x2="325.90" y2="1009.40" stroke="#000" stroke-width="1.4" />
<text x="319.40" y="1012.70" font-size="9.3" text-anchor="end" font-weight="normal" fill="#000" >0</text>
<line x1="320.60" y1="978.48" x2="325.90" y2="978.48" stroke="#000" stroke-width="1.4" />
<text x="319.40" y="981.77" font-size="9.3" text-anchor="end" font-weight="normal" fill="#000" >25</text>
<line x1="320.60" y1="947.55" x2="325.90" y2="947.55" stroke="#000" stroke-width="1.4" />
<text x="319.40" y="950.85" font-size="9.3" text-anchor="end" font-weight="normal" fill="#000" >50</text>
<line x1="320.60" y1="916.62" x2="325.90" y2="916.62" stroke="#000" stroke-width="1.4" />
<text x="319.40" y="919.92" font-size="9.3" text-anchor="end" font-weight="normal" fill="#000" >75</text>
<line x1="320.60" y1="885.70" x2="325.90" y2="885.70" stroke="#000" stroke-width="1.4" />
<text x="319.40" y="889.00" font-size="9.3" text-anchor="end" font-weight="normal" fill="#000" >100</text>
<line x1="325.90" y1="1009.40" x2="325.90" y2="1014.70" stroke="#000" stroke-width="1.4" />
<text x="325.90" y="1023.00" font-size="9.3" text-anchor="middle" font-weight="normal" fill="#000" >0</text>
<line x1="357.00" y1="1009.40" x2="357.00" y2="1014.70" stroke="#000" stroke-width="1.4" />
<text x="357.00" y="1023.00" font-size="9.3" text-anchor="middle" font-weight="normal" fill="#000" >7</text>
<line x1="388.10" y1="1009.40" x2="388.10" y2="1014.70" stroke="#000" stroke-width="1.4" />
<text x="388.10" y="1023.00" font-size="9.3" text-anchor="middle" font-weight="normal" fill="#000" >14</text>
<line x1="419.20" y1="1009.40" x2="419.20" y2="1014.70" stroke="#000" stroke-width="1.4" />
<text x="419.20" y="1023.00" font-size="9.3" text-anchor="middle" font-weight="normal" fill="#000" >21</text>
<line x1="450.30" y1="1009.40" x2="450.30" y2="1014.70" stroke="#000" stroke-width="1.4" />
<text x="450.30" y="1023.00" font-size="9.3" text-anchor="middle" font-weight="normal" fill="#000" >28</text>
<line x1="481.40" y1="1009.40" x2="481.40" y2="1014.70" stroke="#000" stroke-width="1.4" />
<text x="481.40" y="1023.00" font-size="9.3" text-anchor="middle" font-weight="normal" fill="#000" >35</text>
<line x1="512.51" y1="1009.40" x2="512.51" y2="1014.70" stroke="#000" stroke-width="1.4" />
<text x="512.51" y="1023.00" font-size="9.3" text-anchor="middle" font-weight="normal" fill="#000" >42</text>
<polyline points="325.90,885.70 450.30,885.70 450.30,885.70 450.30,885.70 450.30,941.98 463.63,941.98 463.63,941.98 463.63,941.98 463.63,975.63 494.73,975.63 494.73,975.63 494.73,975.63 494.73,986.89 512.51,986.89 512.51,986.89" fill="none" stroke="#0000ff" stroke-width="2.3" stroke-linejoin="round" stroke-linejoin="miter" stroke-linecap="butt"/>
<polyline points="325.90,885.70 450.30,885.70 450.30,885.70 450.30,885.70 450.30,913.16 463.63,913.16 463.63,913.16 463.63,913.16 463.63,954.48 494.73,954.48 494.73,954.48 494.73,954.48 494.73,981.94 512.51,981.94 512.51,981.94" fill="none" stroke="#ff0000" stroke-width="2.3" stroke-linejoin="round" stroke-linejoin="miter" stroke-linecap="butt"/>
<polyline points="325.90,885.70 481.40,885.70 481.40,885.70 481.40,885.70 481.40,913.16 494.73,913.16 494.73,913.16 494.73,913.16 494.73,940.62 512.51,940.62 512.51,940.62" fill="none" stroke="#8b00ff" stroke-width="2.3" stroke-linejoin="round" stroke-linejoin="miter" stroke-linecap="butt"/>
<polyline points="325.90,885.70 450.30,885.70 450.30,885.70 450.30,885.70 450.30,968.21 463.63,968.21 463.63,968.21 463.63,968.21 463.63,1009.40" fill="none" stroke="#000000" stroke-width="2.6" stroke-linejoin="round" stroke-linejoin="miter" stroke-linecap="butt"/>
<text transform="translate(305.2,946.4) rotate(-90)" font-size="10.4" text-anchor="middle">Probability of Survival</text>
<text x="420.50" y="1035.60" font-size="10.0" text-anchor="middle" font-weight="normal" fill="#000" >Days Post Tumor Inoculation</text>
<text x="506.60" y="941.10" font-size="13" text-anchor="middle" font-weight="bold" fill="#222" >****</text>
<text x="506.20" y="982.30" font-size="13" text-anchor="middle" font-weight="bold" fill="#222" >*</text>
<line x1="524.30" y1="886.00" x2="539.10" y2="886.00" stroke="#000000" stroke-width="2.4" />
<line x1="524.30" y1="902.80" x2="539.10" y2="902.80" stroke="#ff0000" stroke-width="2.4" />
<line x1="524.30" y1="921.80" x2="539.10" y2="921.80" stroke="#0000ff" stroke-width="2.4" />
<line x1="524.30" y1="939.60" x2="539.10" y2="939.60" stroke="#8b00ff" stroke-width="2.4" />
<text x="542.10" y="890.20" font-size="10.2" text-anchor="start" font-weight="normal" fill="#000" >No Treatment (28)</text>
<text x="542.10" y="907.00" font-size="10.2" text-anchor="start" font-weight="normal" fill="#000" >Docetaxel (31; p=0.0217)</text>
<text x="542.10" y="925.90" font-size="10.2" text-anchor="start" font-weight="normal" fill="#000" >NHS-IL-12 (31; p=0.1254)</text>
<text x="542.10" y="943.80" font-size="10.2" text-anchor="start" font-weight="normal" fill="#000" >Docetaxel</text>
<text x="675.40" y="943.80" font-size="9.95" text-anchor="end" font-weight="normal" fill="#000" >(undef.; p&lt;0.0001)</text>
<text x="542.10" y="955.20" font-size="10.2" text-anchor="start" font-weight="normal" fill="#000" >+ NHS-IL-12</text>
</svg></body></html>
